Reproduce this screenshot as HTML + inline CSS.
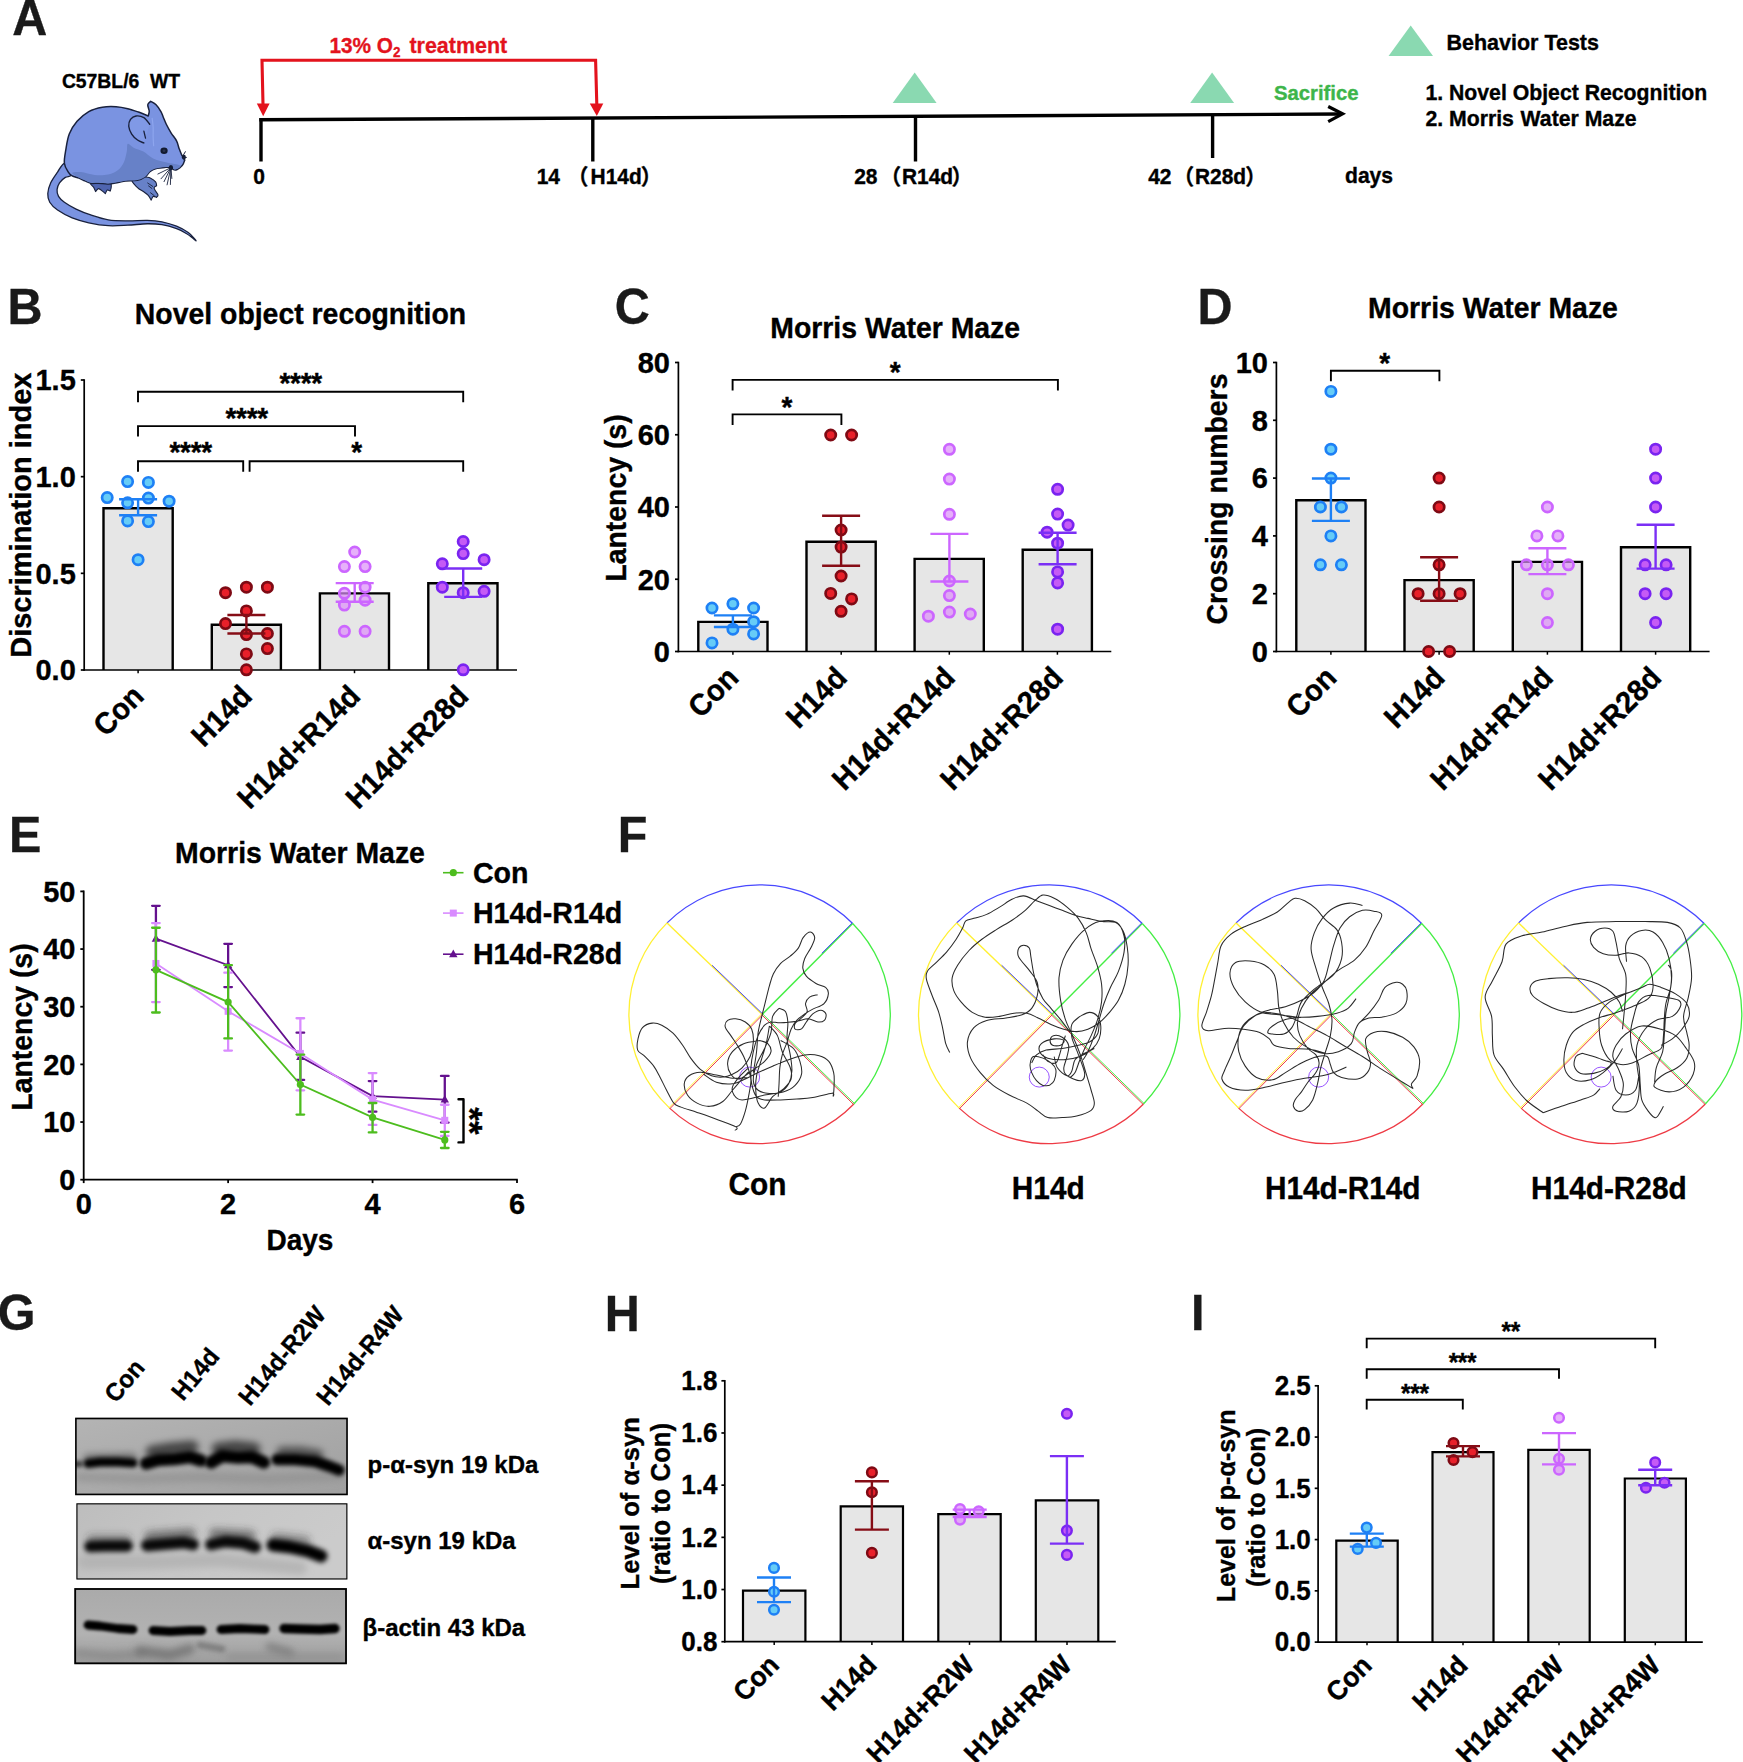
<!DOCTYPE html>
<html><head><meta charset="utf-8"><title>Figure</title>
<style>
html,body{margin:0;padding:0;background:#fff;}
svg{display:block;font-family:"Liberation Sans", "Noto Sans CJK SC", sans-serif;}
text{font-family:"Liberation Sans", "Noto Sans CJK SC", sans-serif;}
</style></head><body>
<svg width="1743" height="1762" viewBox="0 0 1743 1762">
<rect width="1743" height="1762" fill="#fff"/>
<text x="12.2" y="35" font-size="48.5" text-anchor="start" font-weight="bold" fill="#1a1a1a" stroke="#1a1a1a" stroke-width="0.35" transform="translate(12.2 35) scale(1 1.04) translate(-12.2 -35)">A</text>
<text x="121" y="88" font-size="19.35" text-anchor="middle" font-weight="bold" fill="#000" stroke="#000" stroke-width="0.35" transform="translate(121 88) scale(1 1.04) translate(-121 -88)">C57BL/6&#160; WT</text>
<g stroke-linejoin="round" stroke-linecap="round">
<path d="M64.38 163.27C61.94 163.76 59.83 168.8 57.56 172.05C55.28 175.3 52.35 179.2 50.73 182.78C49.1 186.36 47.97 190.26 47.8 193.51C47.64 196.76 48.13 199.52 49.75 202.29C51.38 205.05 53.82 207.49 57.56 210.09C61.29 212.69 66.98 215.78 72.19 217.89C77.39 220 82.75 221.47 88.77 222.77C94.78 224.07 101.77 225.29 108.27 225.69C114.77 226.1 121.28 225.53 127.78 225.21C134.28 224.88 141.6 223.82 147.29 223.74C152.98 223.66 157.04 223.91 161.92 224.72C166.79 225.53 172.48 227.16 176.55 228.62C180.61 230.08 183.54 231.87 186.3 233.5C189.06 235.12 191.5 237.15 193.13 238.37C194.75 239.59 195.56 240.4 196.05 240.81C195.89 240.57 196.38 240.73 195.08 239.35C193.78 237.97 191.34 234.72 188.25 232.52C185.16 230.33 180.93 227.97 176.55 226.18C172.16 224.39 166.79 222.77 161.92 221.79C157.04 220.82 152.98 220.49 147.29 220.33C141.6 220.17 134.28 220.9 127.78 220.82C121.28 220.74 114.45 220.82 108.27 219.84C102.1 218.87 96.08 216.75 90.72 214.96C85.35 213.18 80.48 211.23 76.09 209.11C71.7 207 67.31 204.4 64.38 202.29C61.46 200.17 59.75 198.55 58.53 196.43C57.31 194.32 56.91 191.88 57.07 189.61C57.23 187.33 58.12 184.81 59.51 182.78C60.89 180.75 63.41 178.63 65.36 177.41C67.31 176.2 70.07 176.85 71.21 175.46C72.35 174.08 73.32 171.16 72.19 169.12C71.05 167.09 66.82 162.79 64.38 163.27Z" stroke="#19213D" stroke-width="1.3" fill="#7A93E1" />
<path d="M90.72 183.27C89.58 184.16 92.83 185.79 93.64 187.17C94.46 188.55 95.27 190.83 95.59 191.56C96.08 191.07 97.38 188.71 98.52 188.63C99.66 188.55 101.28 190.22 102.42 191.07C103.56 191.91 104.86 193.26 105.35 193.7C105.67 193.1 106.48 190.53 107.3 190.09C108.11 189.66 109.74 190.91 110.22 191.07C110.39 190.42 111.2 188.47 111.2 187.17C111.2 185.87 112.01 184.16 110.22 183.27C108.44 182.37 103.72 181.8 100.47 181.8C97.22 181.8 91.85 182.37 90.72 183.27Z" stroke="#19213D" stroke-width="1.1" fill="#4F65B0" />
<path d="M131.68 178.88C130.71 181.64 135.58 185.54 137.53 187.66C139.48 189.77 141.6 190.26 143.38 191.56C145.17 192.86 146.96 194.03 148.26 195.46C149.56 196.89 150.7 199.36 151.19 200.14C151.51 199.52 152.24 196.89 153.14 196.43C154.03 195.98 155.98 197.25 156.55 197.41C156.8 197 158.18 196.03 158.01 194.97C157.85 193.91 156.23 192.29 155.58 191.07C154.93 189.85 153.93 188.55 154.11 187.66C154.29 186.76 156.23 186.03 156.65 185.71C156.47 185.05 156.65 183.1 155.58 181.8C154.5 180.5 152 178.8 150.21 177.9C148.42 177.01 145.99 177.58 144.85 176.44C143.71 175.3 145.58 170.67 143.38 171.08C141.19 171.48 132.66 176.11 131.68 178.88Z" stroke="#19213D" stroke-width="1.1" fill="#6781C8" />
<path d="M64.38 163.27C63.98 159.53 65.03 154.49 65.85 149.62C66.66 144.74 67.39 138.73 69.26 134.01C71.13 129.3 73.81 125.07 77.06 121.33C80.31 117.6 84.54 113.94 88.77 111.58C92.99 109.22 97.87 108 102.42 107.19C106.97 106.38 111.85 106.46 116.08 106.7C120.3 106.95 124.04 107.76 127.78 108.65C131.52 109.55 135.09 110.85 138.51 112.07C141.92 113.29 146.64 115.32 148.26 115.97C148.42 115.16 149.32 112.96 149.24 111.09C149.16 109.22 147.53 106.38 147.77 104.75C148.02 103.13 150.21 101.91 150.7 101.34C151.59 101.91 154.36 103.05 156.06 104.75C157.77 106.46 159.72 109.47 160.94 111.58C162.16 113.69 162.48 115.32 163.38 117.43C164.27 119.55 165 121.66 166.3 124.26C167.6 126.86 169.47 130.27 171.18 133.04C172.89 135.8 175.24 138.32 176.55 140.84C177.85 143.36 178.09 145.72 178.98 148.16C179.88 150.59 180.98 153.68 181.91 155.47C182.84 157.26 184.3 157.5 184.54 158.88C184.79 160.27 184.06 162.38 183.37 163.76C182.69 165.14 181.83 166.12 180.45 167.17C179.06 168.23 176.71 170.07 175.08 170.1C173.46 170.13 171.42 167.82 170.69 167.37C169.88 167.37 168.09 167.21 165.82 167.37C163.54 167.53 159.64 167.69 157.04 168.34C154.44 168.99 152.08 169.92 150.21 171.27C148.34 172.62 147.94 174.93 145.82 176.44C143.71 177.95 140.86 179.58 137.53 180.34C134.2 181.1 129.08 180.67 125.83 181.02C122.58 181.38 120.95 182 118.03 182.49C115.1 182.97 111.52 183.82 108.27 183.95C105.02 184.08 101.45 183.38 98.52 183.27C95.59 183.15 92.99 183.67 90.72 183.27C88.44 182.86 86.82 181.69 84.86 180.83C82.91 179.97 81.13 178.91 79.01 178.1C76.9 177.28 73.97 176.96 72.19 175.95C70.4 174.94 69.58 174.16 68.28 172.05C66.98 169.94 64.79 167.01 64.38 163.27Z" stroke="#19213D" stroke-width="1.5" fill="#7A93E1" />
<path d="M72.19 173.03C72.51 172.08 77.22 171.73 80.96 172.05C84.7 172.38 90.07 174.57 94.62 174.98C99.17 175.38 104.37 175.3 108.27 174.49C112.17 173.68 115.43 172.13 118.03 170.1C120.63 168.07 122.41 165.39 123.88 162.3C125.34 159.21 126.15 154.66 126.8 151.57C127.45 148.48 126.64 144.42 127.78 143.77C128.92 143.12 131.03 146.37 133.63 147.67C136.23 148.97 140.13 149.78 143.38 151.57C146.64 153.36 149.4 156.61 153.14 158.4C156.88 160.18 161.27 161.08 165.82 162.3C170.37 163.52 178.9 164.49 180.45 165.71C181.99 166.93 176.71 169.37 175.08 169.61C173.46 169.86 173.7 167.42 170.69 167.17C167.69 166.93 160.45 167.5 157.04 168.15C153.63 168.8 152.08 169.74 150.21 171.08C148.34 172.41 147.94 174.65 145.82 176.15C143.71 177.64 140.86 179.3 137.53 180.05C134.2 180.8 129.08 180.29 125.83 180.63C122.58 180.97 120.95 181.63 118.03 182.1C115.1 182.57 111.52 183.35 108.27 183.46C105.02 183.58 101.45 182.89 98.52 182.78C95.59 182.67 92.99 183.19 90.72 182.78C88.44 182.37 86.82 181.19 84.86 180.34C82.91 179.5 81.13 178.93 79.01 177.71C76.9 176.49 71.86 173.97 72.19 173.03Z" stroke="none" stroke-width="0" fill="#6781C8" />
<path d="M149.72 124.26C148.75 123.15 146.15 119.01 143.87 117.63C141.6 116.25 138.3 115.68 136.07 115.97C133.84 116.26 131.73 117.68 130.51 119.38C129.29 121.09 128.56 123.77 128.75 126.21C128.95 128.65 130.22 131.7 131.68 134.01C133.14 136.32 135.5 138.56 137.53 140.06C139.56 141.56 142.82 142.5 143.87 142.99" stroke="#19213D" stroke-width="1.4" fill="#8099E6" />
<path d="M143.87 131.09C143.99 131.57 144.28 132.84 144.55 134.01C144.83 135.18 145.37 137.43 145.53 138.11" stroke="#19213D" stroke-width="1.3" fill="none" />
<path d="M152.16 118.41C152.32 119.87 152.98 124.1 153.14 127.19C153.3 130.27 153.06 133.85 153.14 136.94C153.22 140.03 153.54 144.25 153.63 145.72" stroke="#8DA5EE" stroke-width="1.2" fill="none" />
<ellipse cx="164.06" cy="150.79" rx="3.6" ry="3.3" fill="#121a30"/>
<ellipse cx="164.06" cy="150.79" rx="1.5" ry="1.3" fill="#2a3350"/>
<ellipse cx="183.86" cy="157.23" rx="2" ry="2.4" fill="#121a30"/>
<line x1="182.89" y1="155.96" x2="185.52" y2="151.37" stroke="#19213D" stroke-width="1" stroke-linecap="butt"/>
<line x1="183.37" y1="157.42" x2="186.79" y2="157.42" stroke="#19213D" stroke-width="1" stroke-linecap="butt"/>
<line x1="183.18" y1="158.4" x2="185.32" y2="160.15" stroke="#19213D" stroke-width="1" stroke-linecap="butt"/>
<ellipse cx="170.89" cy="167.66" rx="2.2" ry="2.6" fill="#121a30"/>
<line x1="170.89" y1="167.66" x2="157.53" y2="174.2" stroke="#19213D" stroke-width="0.9" stroke-linecap="butt"/>
<line x1="170.89" y1="167.66" x2="160.75" y2="179.07" stroke="#19213D" stroke-width="0.9" stroke-linecap="butt"/>
<line x1="170.89" y1="167.66" x2="163.87" y2="182" stroke="#19213D" stroke-width="0.9" stroke-linecap="butt"/>
<line x1="170.89" y1="167.66" x2="166.99" y2="185.22" stroke="#19213D" stroke-width="0.9" stroke-linecap="butt"/>
<line x1="170.89" y1="167.66" x2="170.4" y2="184.92" stroke="#19213D" stroke-width="0.9" stroke-linecap="butt"/>
<line x1="170.89" y1="167.66" x2="171.86" y2="178.88" stroke="#19213D" stroke-width="0.9" stroke-linecap="butt"/>
<line x1="147.29" y1="182.78" x2="153.14" y2="186.68" stroke="#19213D" stroke-width="0.9" stroke-linecap="butt"/>
<line x1="148.26" y1="185.71" x2="152.16" y2="188.63" stroke="#19213D" stroke-width="0.9" stroke-linecap="butt"/>
<line x1="150.21" y1="192.53" x2="154.6" y2="195.95" stroke="#19213D" stroke-width="0.9" stroke-linecap="butt"/>
</g>
<line x1="259.3" y1="119.8" x2="1341" y2="114" stroke="#000" stroke-width="3.4" stroke-linecap="butt"/>
<path d="M1328.2 106.5 L1342.6 113.9 L1328.2 121.6" stroke="#000" stroke-width="3.2" fill="none" stroke-linejoin="miter"/>
<line x1="261" y1="118.2" x2="261" y2="161.5" stroke="#000" stroke-width="3.4" stroke-linecap="butt"/>
<line x1="592.8" y1="117.5" x2="592.8" y2="161.5" stroke="#000" stroke-width="3.4" stroke-linecap="butt"/>
<line x1="915.5" y1="116" x2="915.5" y2="161.5" stroke="#000" stroke-width="3.4" stroke-linecap="butt"/>
<line x1="1212.6" y1="114.5" x2="1212.6" y2="158" stroke="#000" stroke-width="3.4" stroke-linecap="butt"/>
<path d="M263 104.5 L262 60.3 L595.6 60.3 L596.8 104.5" stroke="#E3131D" stroke-width="3.1" fill="none" />
<polygon points="256.8,103.4 269.6,103.4 263.2,116.2" fill="#E3131D"/>
<polygon points="589.8,103.5 603.3,103.5 596.8,116" fill="#E3131D"/>
<text x="329.4" y="52.8" transform="translate(329.4 52.8) scale(1 1.045) translate(-329.4 -52.8)" font-size="20.8" font-weight="bold" stroke="#E3131D" stroke-width="0.3" fill="#E3131D">13% O<tspan font-size="13.5" dy="4.5">2</tspan> <tspan x="409.4" y="52.8" font-size="21.5">treatment</tspan></text>
<polygon points="914.7,72.4 892.7,103.1 936.6,103.1" fill="#8AD9B1"/>
<polygon points="1212.1,72.4 1190.2,103.1 1234.1,103.1" fill="#8AD9B1"/>
<polygon points="1410.7,25.6 1388.6,56.1 1433,56.1" fill="#8AD9B1"/>
<text x="259" y="183.8" font-size="21" text-anchor="middle" font-weight="bold" fill="#000" stroke="#000" stroke-width="0.35" transform="translate(259 183.8) scale(1 1.04) translate(-259 -183.8)">0</text>
<text x="536.7" y="183.8" font-size="21" text-anchor="start" font-weight="bold" fill="#000" stroke="#000" stroke-width="0.35" transform="translate(536.7 183.8) scale(1 1.04) translate(-536.7 -183.8)">14</text>
<text y="183.8" font-size="20.9" font-weight="bold" fill="#000" stroke="#000" stroke-width="0.35" transform="translate(567.4 183.8) scale(1 1.04) translate(-567.4 -183.8)"><tspan x="567.4">（</tspan><tspan x="590.6">H14d</tspan><tspan x="640.8">）</tspan></text>
<text x="854.2" y="183.8" font-size="21" text-anchor="start" font-weight="bold" fill="#000" stroke="#000" stroke-width="0.35" transform="translate(854.2 183.8) scale(1 1.04) translate(-854.2 -183.8)">28</text>
<text y="183.8" font-size="20.9" font-weight="bold" fill="#000" stroke="#000" stroke-width="0.35" transform="translate(880.2 183.8) scale(1 1.04) translate(-880.2 -183.8)"><tspan x="880.2">（</tspan><tspan x="902">R14d</tspan><tspan x="951.6">）</tspan></text>
<text x="1148.2" y="183.8" font-size="21" text-anchor="start" font-weight="bold" fill="#000" stroke="#000" stroke-width="0.35" transform="translate(1148.2 183.8) scale(1 1.04) translate(-1148.2 -183.8)">42</text>
<text y="183.8" font-size="20.9" font-weight="bold" fill="#000" stroke="#000" stroke-width="0.35" transform="translate(1173.3 183.8) scale(1 1.04) translate(-1173.3 -183.8)"><tspan x="1173.3">（</tspan><tspan x="1195">R28d</tspan><tspan x="1245.2">）</tspan></text>
<text x="1345" y="182.8" font-size="21.1" text-anchor="start" font-weight="bold" fill="#000" stroke="#000" stroke-width="0.35" transform="translate(1345 182.8) scale(1 1.04) translate(-1345 -182.8)">days</text>
<text x="1274" y="100.5" font-size="20.3" text-anchor="start" font-weight="bold" fill="#3DB54A" stroke="#3DB54A" stroke-width="0.35" transform="translate(1274 100.5) scale(1 1.04) translate(-1274 -100.5)">Sacrifice</text>
<text x="1446.5" y="50.4" font-size="21.5" text-anchor="start" font-weight="bold" fill="#000" stroke="#000" stroke-width="0.35" transform="translate(1446.5 50.4) scale(1 1.04) translate(-1446.5 -50.4)">Behavior Tests</text>
<text x="1425.4" y="100.5" font-size="21.25" text-anchor="start" font-weight="bold" fill="#000" stroke="#000" stroke-width="0.35" transform="translate(1425.4 100.5) scale(1 1.04) translate(-1425.4 -100.5)">1. Novel Object Recognition</text>
<text y="126" font-size="21.25" font-weight="bold" fill="#000" stroke="#000" stroke-width="0.35" transform="translate(1425.4 126) scale(1 1.04) translate(-1425.4 -126)"><tspan x="1425.4">2. Morris </tspan><tspan x="1520.6">Water Maze</tspan></text>
<text x="7.4" y="324.1" font-size="48.5" text-anchor="start" font-weight="bold" fill="#1a1a1a" stroke="#1a1a1a" stroke-width="0.35" transform="translate(7.4 324.1) scale(1 1.04) translate(-7.4 -324.1)">B</text>
<text x="300.5" y="324.5" font-size="28.4" text-anchor="middle" font-weight="bold" fill="#000" stroke="#000" stroke-width="0.35" transform="translate(300.5 324.5) scale(1 1.04) translate(-300.5 -324.5)">Novel object recognition</text>
<rect x="103.5" y="508.2" width="69.2" height="161.8" fill="#E6E6E6"/>
<path d="M103.5 670 V508.2 H172.7 V670" fill="none" stroke="#000" stroke-width="2.4" stroke-linejoin="miter"/>
<rect x="211.8" y="624.8" width="69.1" height="45.2" fill="#E6E6E6"/>
<path d="M211.8 670 V624.8 H280.9 V670" fill="none" stroke="#000" stroke-width="2.4" stroke-linejoin="miter"/>
<rect x="319.9" y="593.4" width="69.1" height="76.6" fill="#E6E6E6"/>
<path d="M319.9 670 V593.4 H389 V670" fill="none" stroke="#000" stroke-width="2.4" stroke-linejoin="miter"/>
<rect x="428.3" y="583.3" width="69.2" height="86.7" fill="#E6E6E6"/>
<path d="M428.3 670 V583.3 H497.5 V670" fill="none" stroke="#000" stroke-width="2.4" stroke-linejoin="miter"/>
<line x1="84.2" y1="379.2" x2="84.2" y2="670.8" stroke="#000" stroke-width="1.7" stroke-linecap="butt"/>
<line x1="83.4" y1="670" x2="517" y2="670" stroke="#000" stroke-width="1.7" stroke-linecap="butt"/>
<line x1="80.8" y1="670" x2="84.2" y2="670" stroke="#000" stroke-width="1.7" stroke-linecap="butt"/>
<text x="75.8" y="680.38" font-size="29" text-anchor="end" font-weight="bold" fill="#000" stroke="#000" stroke-width="0.35" transform="translate(75.8 680.38) scale(1 1.04) translate(-75.8 -680.38)">0.0</text>
<line x1="80.8" y1="573.33" x2="84.2" y2="573.33" stroke="#000" stroke-width="1.7" stroke-linecap="butt"/>
<text x="75.8" y="583.72" font-size="29" text-anchor="end" font-weight="bold" fill="#000" stroke="#000" stroke-width="0.35" transform="translate(75.8 583.72) scale(1 1.04) translate(-75.8 -583.72)">0.5</text>
<line x1="80.8" y1="476.67" x2="84.2" y2="476.67" stroke="#000" stroke-width="1.7" stroke-linecap="butt"/>
<text x="75.8" y="487.05" font-size="29" text-anchor="end" font-weight="bold" fill="#000" stroke="#000" stroke-width="0.35" transform="translate(75.8 487.05) scale(1 1.04) translate(-75.8 -487.05)">1.0</text>
<line x1="80.8" y1="380" x2="84.2" y2="380" stroke="#000" stroke-width="1.7" stroke-linecap="butt"/>
<text x="75.8" y="390.38" font-size="29" text-anchor="end" font-weight="bold" fill="#000" stroke="#000" stroke-width="0.35" transform="translate(75.8 390.38) scale(1 1.04) translate(-75.8 -390.38)">1.5</text>
<line x1="138.1" y1="670" x2="138.1" y2="673.2" stroke="#000" stroke-width="1.5" stroke-linecap="butt"/>
<line x1="246.3" y1="670" x2="246.3" y2="673.2" stroke="#000" stroke-width="1.5" stroke-linecap="butt"/>
<line x1="354.5" y1="670" x2="354.5" y2="673.2" stroke="#000" stroke-width="1.5" stroke-linecap="butt"/>
<line x1="462.9" y1="670" x2="462.9" y2="673.2" stroke="#000" stroke-width="1.5" stroke-linecap="butt"/>
<circle cx="127.6" cy="481.6" r="5.15" fill="#66CCF7" fill-opacity="1.0" stroke="#1E80F5" stroke-width="2.7"/>
<circle cx="148.4" cy="482.4" r="5.15" fill="#66CCF7" fill-opacity="1.0" stroke="#1E80F5" stroke-width="2.7"/>
<circle cx="107.2" cy="497.6" r="5.15" fill="#66CCF7" fill-opacity="1.0" stroke="#1E80F5" stroke-width="2.7"/>
<circle cx="148.4" cy="498.1" r="5.15" fill="#66CCF7" fill-opacity="1.0" stroke="#1E80F5" stroke-width="2.7"/>
<circle cx="169.1" cy="501.2" r="5.15" fill="#66CCF7" fill-opacity="1.0" stroke="#1E80F5" stroke-width="2.7"/>
<circle cx="127.6" cy="502.8" r="5.15" fill="#66CCF7" fill-opacity="1.0" stroke="#1E80F5" stroke-width="2.7"/>
<circle cx="127.6" cy="520.9" r="5.15" fill="#66CCF7" fill-opacity="1.0" stroke="#1E80F5" stroke-width="2.7"/>
<circle cx="148.4" cy="521.6" r="5.15" fill="#66CCF7" fill-opacity="1.0" stroke="#1E80F5" stroke-width="2.7"/>
<circle cx="138.1" cy="559.7" r="5.15" fill="#66CCF7" fill-opacity="1.0" stroke="#1E80F5" stroke-width="2.7"/>
<line x1="119.1" y1="499.3" x2="157.1" y2="499.3" stroke="#1E80F5" stroke-width="2.4" stroke-linecap="butt"/>
<line x1="119.1" y1="515.3" x2="157.1" y2="515.3" stroke="#1E80F5" stroke-width="2.4" stroke-linecap="butt"/>
<line x1="138.1" y1="499.3" x2="138.1" y2="515.3" stroke="#1E80F5" stroke-width="2.4" stroke-linecap="butt"/>
<circle cx="246.4" cy="587.2" r="5.15" fill="#E8202A" fill-opacity="1.0" stroke="#7E0A14" stroke-width="2.7"/>
<circle cx="267.4" cy="587.2" r="5.15" fill="#E8202A" fill-opacity="1.0" stroke="#7E0A14" stroke-width="2.7"/>
<circle cx="225.5" cy="592.7" r="5.15" fill="#E8202A" fill-opacity="1.0" stroke="#7E0A14" stroke-width="2.7"/>
<circle cx="246.4" cy="610.9" r="5.15" fill="#E8202A" fill-opacity="1.0" stroke="#7E0A14" stroke-width="2.7"/>
<circle cx="225.5" cy="623.6" r="5.15" fill="#E8202A" fill-opacity="1.0" stroke="#7E0A14" stroke-width="2.7"/>
<circle cx="246.4" cy="634.6" r="5.15" fill="#E8202A" fill-opacity="1.0" stroke="#7E0A14" stroke-width="2.7"/>
<circle cx="267.4" cy="633.5" r="5.15" fill="#E8202A" fill-opacity="1.0" stroke="#7E0A14" stroke-width="2.7"/>
<circle cx="267.4" cy="648.6" r="5.15" fill="#E8202A" fill-opacity="1.0" stroke="#7E0A14" stroke-width="2.7"/>
<circle cx="246.4" cy="653.9" r="5.15" fill="#E8202A" fill-opacity="1.0" stroke="#7E0A14" stroke-width="2.7"/>
<circle cx="246.4" cy="669.8" r="5.15" fill="#E8202A" fill-opacity="1.0" stroke="#7E0A14" stroke-width="2.7"/>
<line x1="227.4" y1="615" x2="265.4" y2="615" stroke="#860D16" stroke-width="2.4" stroke-linecap="butt"/>
<line x1="227.4" y1="633.5" x2="265.4" y2="633.5" stroke="#860D16" stroke-width="2.4" stroke-linecap="butt"/>
<line x1="246.4" y1="615" x2="246.4" y2="633.5" stroke="#860D16" stroke-width="2.4" stroke-linecap="butt"/>
<circle cx="354.7" cy="552" r="5.15" fill="#DB8FF8" fill-opacity="0.7" stroke="#CC66FF" stroke-width="2.7"/>
<circle cx="344.4" cy="566.6" r="5.15" fill="#DB8FF8" fill-opacity="0.7" stroke="#CC66FF" stroke-width="2.7"/>
<circle cx="365.1" cy="566.6" r="5.15" fill="#DB8FF8" fill-opacity="0.7" stroke="#CC66FF" stroke-width="2.7"/>
<circle cx="365.1" cy="587.2" r="5.15" fill="#DB8FF8" fill-opacity="0.7" stroke="#CC66FF" stroke-width="2.7"/>
<circle cx="344.4" cy="593.3" r="5.15" fill="#DB8FF8" fill-opacity="0.7" stroke="#CC66FF" stroke-width="2.7"/>
<circle cx="365.1" cy="600.2" r="5.15" fill="#DB8FF8" fill-opacity="0.7" stroke="#CC66FF" stroke-width="2.7"/>
<circle cx="344.4" cy="605.1" r="5.15" fill="#DB8FF8" fill-opacity="0.7" stroke="#CC66FF" stroke-width="2.7"/>
<circle cx="344.4" cy="631.3" r="5.15" fill="#DB8FF8" fill-opacity="0.7" stroke="#CC66FF" stroke-width="2.7"/>
<circle cx="365.1" cy="631.3" r="5.15" fill="#DB8FF8" fill-opacity="0.7" stroke="#CC66FF" stroke-width="2.7"/>
<line x1="335.7" y1="583.1" x2="373.7" y2="583.1" stroke="#CC66FF" stroke-width="2.4" stroke-linecap="butt"/>
<line x1="335.7" y1="601.8" x2="373.7" y2="601.8" stroke="#CC66FF" stroke-width="2.4" stroke-linecap="butt"/>
<line x1="354.7" y1="583.1" x2="354.7" y2="601.8" stroke="#CC66FF" stroke-width="2.4" stroke-linecap="butt"/>
<circle cx="463.2" cy="541.5" r="5.15" fill="#C55BF5" fill-opacity="1.0" stroke="#7A24F0" stroke-width="2.7"/>
<circle cx="463.2" cy="553.6" r="5.15" fill="#C55BF5" fill-opacity="1.0" stroke="#7A24F0" stroke-width="2.7"/>
<circle cx="442.3" cy="563.8" r="5.15" fill="#C55BF5" fill-opacity="1.0" stroke="#7A24F0" stroke-width="2.7"/>
<circle cx="484.1" cy="559.7" r="5.15" fill="#C55BF5" fill-opacity="1.0" stroke="#7A24F0" stroke-width="2.7"/>
<circle cx="442.3" cy="587.2" r="5.15" fill="#C55BF5" fill-opacity="1.0" stroke="#7A24F0" stroke-width="2.7"/>
<circle cx="463.2" cy="592.7" r="5.15" fill="#C55BF5" fill-opacity="1.0" stroke="#7A24F0" stroke-width="2.7"/>
<circle cx="484.1" cy="591.3" r="5.15" fill="#C55BF5" fill-opacity="1.0" stroke="#7A24F0" stroke-width="2.7"/>
<circle cx="463.2" cy="669.8" r="5.15" fill="#C55BF5" fill-opacity="1.0" stroke="#7A24F0" stroke-width="2.7"/>
<line x1="444.2" y1="568.5" x2="482.2" y2="568.5" stroke="#7B2FF5" stroke-width="2.4" stroke-linecap="butt"/>
<line x1="444.2" y1="596.9" x2="482.2" y2="596.9" stroke="#7B2FF5" stroke-width="2.4" stroke-linecap="butt"/>
<line x1="463.2" y1="568.5" x2="463.2" y2="596.9" stroke="#7B2FF5" stroke-width="2.4" stroke-linecap="butt"/>
<text x="30.8" y="515.2" font-size="29" text-anchor="middle" font-weight="bold" fill="#000" stroke="#000" stroke-width="0.35" transform="rotate(-90 30.8 515.2) translate(30.8 515.2) scale(1 1.04) translate(-30.8 -515.2)">Discrimination index</text>
<text x="145.6" y="698" font-size="29" text-anchor="end" font-weight="bold" fill="#000" stroke="#000" stroke-width="0.35" transform="rotate(-45 145.6 698) translate(145.6 698) scale(1 1.04) translate(-145.6 -698)">Con</text>
<text x="253.8" y="698" font-size="29" text-anchor="end" font-weight="bold" fill="#000" stroke="#000" stroke-width="0.35" transform="rotate(-45 253.8 698) translate(253.8 698) scale(1 1.04) translate(-253.8 -698)">H14d</text>
<text x="362" y="698" font-size="29" text-anchor="end" font-weight="bold" fill="#000" stroke="#000" stroke-width="0.35" transform="rotate(-45 362 698) translate(362 698) scale(1 1.04) translate(-362 -698)">H14d+R14d</text>
<text x="470.4" y="698" font-size="29" text-anchor="end" font-weight="bold" fill="#000" stroke="#000" stroke-width="0.35" transform="rotate(-45 470.4 698) translate(470.4 698) scale(1 1.04) translate(-470.4 -698)">H14d+R28d</text>
<path d="M138 402.2 V391.7 H463.2 V402.2" stroke="#000" stroke-width="1.9" fill="none" />
<text x="300.7" y="393" font-size="28" text-anchor="middle" font-weight="bold" fill="#000" stroke="#000" stroke-width="0.35" transform="translate(300.7 393) scale(1 1.04) translate(-300.7 -393)" letter-spacing="-0.3">****</text>
<path d="M138 436.6 V426.1 H355 V436.6" stroke="#000" stroke-width="1.9" fill="none" />
<text x="246.7" y="428.1" font-size="28" text-anchor="middle" font-weight="bold" fill="#000" stroke="#000" stroke-width="0.35" transform="translate(246.7 428.1) scale(1 1.04) translate(-246.7 -428.1)" letter-spacing="-0.3">****</text>
<path d="M138 471.8 V461.3 H243.2 V471.8" stroke="#000" stroke-width="1.9" fill="none" />
<text x="190.7" y="462.5" font-size="28" text-anchor="middle" font-weight="bold" fill="#000" stroke="#000" stroke-width="0.35" transform="translate(190.7 462.5) scale(1 1.04) translate(-190.7 -462.5)" letter-spacing="-0.3">****</text>
<path d="M249.6 471.8 V461.3 H463.2 V471.8" stroke="#000" stroke-width="1.9" fill="none" />
<text x="356.6" y="462.5" font-size="28" text-anchor="middle" font-weight="bold" fill="#000" stroke="#000" stroke-width="0.35" transform="translate(356.6 462.5) scale(1 1.04) translate(-356.6 -462.5)" letter-spacing="-0.3">*</text>
<text x="614.8" y="324.4" font-size="48.5" text-anchor="start" font-weight="bold" fill="#1a1a1a" stroke="#1a1a1a" stroke-width="0.35" transform="translate(614.8 324.4) scale(1 1.04) translate(-614.8 -324.4)">C</text>
<text x="895.2" y="338.2" font-size="28.4" text-anchor="middle" font-weight="bold" fill="#000" stroke="#000" stroke-width="0.35" transform="translate(895.2 338.2) scale(1 1.04) translate(-895.2 -338.2)">Morris Water Maze</text>
<rect x="698.3" y="621.9" width="69.2" height="29.6" fill="#E6E6E6"/>
<path d="M698.3 651.5 V621.9 H767.5 V651.5" fill="none" stroke="#000" stroke-width="2.4" stroke-linejoin="miter"/>
<rect x="806.5" y="541.8" width="69.2" height="109.7" fill="#E6E6E6"/>
<path d="M806.5 651.5 V541.8 H875.7 V651.5" fill="none" stroke="#000" stroke-width="2.4" stroke-linejoin="miter"/>
<rect x="914.6" y="558.9" width="69.2" height="92.6" fill="#E6E6E6"/>
<path d="M914.6 651.5 V558.9 H983.8 V651.5" fill="none" stroke="#000" stroke-width="2.4" stroke-linejoin="miter"/>
<rect x="1022.7" y="549.8" width="69.2" height="101.7" fill="#E6E6E6"/>
<path d="M1022.7 651.5 V549.8 H1091.9 V651.5" fill="none" stroke="#000" stroke-width="2.4" stroke-linejoin="miter"/>
<line x1="678.4" y1="361.7" x2="678.4" y2="652.3" stroke="#000" stroke-width="1.7" stroke-linecap="butt"/>
<line x1="677.6" y1="651.5" x2="1111.3" y2="651.5" stroke="#000" stroke-width="1.7" stroke-linecap="butt"/>
<line x1="675" y1="651.5" x2="678.4" y2="651.5" stroke="#000" stroke-width="1.7" stroke-linecap="butt"/>
<text x="670" y="661.88" font-size="29" text-anchor="end" font-weight="bold" fill="#000" stroke="#000" stroke-width="0.35" transform="translate(670 661.88) scale(1 1.04) translate(-670 -661.88)">0</text>
<line x1="675" y1="579.25" x2="678.4" y2="579.25" stroke="#000" stroke-width="1.7" stroke-linecap="butt"/>
<text x="670" y="589.63" font-size="29" text-anchor="end" font-weight="bold" fill="#000" stroke="#000" stroke-width="0.35" transform="translate(670 589.63) scale(1 1.04) translate(-670 -589.63)">20</text>
<line x1="675" y1="507" x2="678.4" y2="507" stroke="#000" stroke-width="1.7" stroke-linecap="butt"/>
<text x="670" y="517.38" font-size="29" text-anchor="end" font-weight="bold" fill="#000" stroke="#000" stroke-width="0.35" transform="translate(670 517.38) scale(1 1.04) translate(-670 -517.38)">40</text>
<line x1="675" y1="434.75" x2="678.4" y2="434.75" stroke="#000" stroke-width="1.7" stroke-linecap="butt"/>
<text x="670" y="445.13" font-size="29" text-anchor="end" font-weight="bold" fill="#000" stroke="#000" stroke-width="0.35" transform="translate(670 445.13) scale(1 1.04) translate(-670 -445.13)">60</text>
<line x1="675" y1="362.5" x2="678.4" y2="362.5" stroke="#000" stroke-width="1.7" stroke-linecap="butt"/>
<text x="670" y="372.88" font-size="29" text-anchor="end" font-weight="bold" fill="#000" stroke="#000" stroke-width="0.35" transform="translate(670 372.88) scale(1 1.04) translate(-670 -372.88)">80</text>
<line x1="732.9" y1="651.5" x2="732.9" y2="654.7" stroke="#000" stroke-width="1.5" stroke-linecap="butt"/>
<line x1="841.2" y1="651.5" x2="841.2" y2="654.7" stroke="#000" stroke-width="1.5" stroke-linecap="butt"/>
<line x1="949.3" y1="651.5" x2="949.3" y2="654.7" stroke="#000" stroke-width="1.5" stroke-linecap="butt"/>
<line x1="1057.4" y1="651.5" x2="1057.4" y2="654.7" stroke="#000" stroke-width="1.5" stroke-linecap="butt"/>
<circle cx="712" cy="608" r="5.15" fill="#66CCF7" fill-opacity="1.0" stroke="#1E80F5" stroke-width="2.7"/>
<circle cx="732.9" cy="603.8" r="5.15" fill="#66CCF7" fill-opacity="1.0" stroke="#1E80F5" stroke-width="2.7"/>
<circle cx="753.6" cy="608" r="5.15" fill="#66CCF7" fill-opacity="1.0" stroke="#1E80F5" stroke-width="2.7"/>
<circle cx="753.6" cy="621.7" r="5.15" fill="#66CCF7" fill-opacity="1.0" stroke="#1E80F5" stroke-width="2.7"/>
<circle cx="732.9" cy="629.2" r="5.15" fill="#66CCF7" fill-opacity="1.0" stroke="#1E80F5" stroke-width="2.7"/>
<circle cx="753.6" cy="633.9" r="5.15" fill="#66CCF7" fill-opacity="1.0" stroke="#1E80F5" stroke-width="2.7"/>
<circle cx="712" cy="642.9" r="5.15" fill="#66CCF7" fill-opacity="1.0" stroke="#1E80F5" stroke-width="2.7"/>
<line x1="713.9" y1="615.4" x2="751.9" y2="615.4" stroke="#1E80F5" stroke-width="2.4" stroke-linecap="butt"/>
<line x1="713.9" y1="627" x2="751.9" y2="627" stroke="#1E80F5" stroke-width="2.4" stroke-linecap="butt"/>
<line x1="732.9" y1="615.4" x2="732.9" y2="627" stroke="#1E80F5" stroke-width="2.4" stroke-linecap="butt"/>
<circle cx="830.7" cy="435" r="5.15" fill="#E8202A" fill-opacity="1.0" stroke="#7E0A14" stroke-width="2.7"/>
<circle cx="851.6" cy="435" r="5.15" fill="#E8202A" fill-opacity="1.0" stroke="#7E0A14" stroke-width="2.7"/>
<circle cx="841.1" cy="530" r="5.15" fill="#E8202A" fill-opacity="1.0" stroke="#7E0A14" stroke-width="2.7"/>
<circle cx="841.1" cy="547.1" r="5.15" fill="#E8202A" fill-opacity="1.0" stroke="#7E0A14" stroke-width="2.7"/>
<circle cx="841.1" cy="576" r="5.15" fill="#E8202A" fill-opacity="1.0" stroke="#7E0A14" stroke-width="2.7"/>
<circle cx="830.7" cy="593.4" r="5.15" fill="#E8202A" fill-opacity="1.0" stroke="#7E0A14" stroke-width="2.7"/>
<circle cx="851.6" cy="598.9" r="5.15" fill="#E8202A" fill-opacity="1.0" stroke="#7E0A14" stroke-width="2.7"/>
<circle cx="841.1" cy="611.3" r="5.15" fill="#E8202A" fill-opacity="1.0" stroke="#7E0A14" stroke-width="2.7"/>
<line x1="822.1" y1="515.7" x2="860.1" y2="515.7" stroke="#860D16" stroke-width="2.4" stroke-linecap="butt"/>
<line x1="822.1" y1="565.8" x2="860.1" y2="565.8" stroke="#860D16" stroke-width="2.4" stroke-linecap="butt"/>
<line x1="841.1" y1="515.7" x2="841.1" y2="565.8" stroke="#860D16" stroke-width="2.4" stroke-linecap="butt"/>
<circle cx="949.4" cy="449.3" r="5.15" fill="#DB8FF8" fill-opacity="0.7" stroke="#CC66FF" stroke-width="2.7"/>
<circle cx="949.4" cy="479.1" r="5.15" fill="#DB8FF8" fill-opacity="0.7" stroke="#CC66FF" stroke-width="2.7"/>
<circle cx="949.4" cy="514.3" r="5.15" fill="#DB8FF8" fill-opacity="0.7" stroke="#CC66FF" stroke-width="2.7"/>
<circle cx="949.4" cy="581" r="5.15" fill="#DB8FF8" fill-opacity="0.7" stroke="#CC66FF" stroke-width="2.7"/>
<circle cx="949.4" cy="595.6" r="5.15" fill="#DB8FF8" fill-opacity="0.7" stroke="#CC66FF" stroke-width="2.7"/>
<circle cx="949.4" cy="612.1" r="5.15" fill="#DB8FF8" fill-opacity="0.7" stroke="#CC66FF" stroke-width="2.7"/>
<circle cx="928.4" cy="616.2" r="5.15" fill="#DB8FF8" fill-opacity="0.7" stroke="#CC66FF" stroke-width="2.7"/>
<circle cx="970.3" cy="614" r="5.15" fill="#DB8FF8" fill-opacity="0.7" stroke="#CC66FF" stroke-width="2.7"/>
<line x1="930.4" y1="533.9" x2="968.4" y2="533.9" stroke="#CC66FF" stroke-width="2.4" stroke-linecap="butt"/>
<line x1="930.4" y1="581.5" x2="968.4" y2="581.5" stroke="#CC66FF" stroke-width="2.4" stroke-linecap="butt"/>
<line x1="949.4" y1="533.9" x2="949.4" y2="581.5" stroke="#CC66FF" stroke-width="2.4" stroke-linecap="butt"/>
<circle cx="1057.6" cy="489.3" r="5.15" fill="#C55BF5" fill-opacity="1.0" stroke="#7A24F0" stroke-width="2.7"/>
<circle cx="1057.6" cy="514.1" r="5.15" fill="#C55BF5" fill-opacity="1.0" stroke="#7A24F0" stroke-width="2.7"/>
<circle cx="1068.1" cy="525.1" r="5.15" fill="#C55BF5" fill-opacity="1.0" stroke="#7A24F0" stroke-width="2.7"/>
<circle cx="1047.1" cy="532.2" r="5.15" fill="#C55BF5" fill-opacity="1.0" stroke="#7A24F0" stroke-width="2.7"/>
<circle cx="1057.6" cy="543.2" r="5.15" fill="#C55BF5" fill-opacity="1.0" stroke="#7A24F0" stroke-width="2.7"/>
<circle cx="1057.6" cy="571.9" r="5.15" fill="#C55BF5" fill-opacity="1.0" stroke="#7A24F0" stroke-width="2.7"/>
<circle cx="1057.6" cy="582.9" r="5.15" fill="#C55BF5" fill-opacity="1.0" stroke="#7A24F0" stroke-width="2.7"/>
<circle cx="1057.6" cy="629.2" r="5.15" fill="#C55BF5" fill-opacity="1.0" stroke="#7A24F0" stroke-width="2.7"/>
<line x1="1038.6" y1="532.8" x2="1076.6" y2="532.8" stroke="#7B2FF5" stroke-width="2.4" stroke-linecap="butt"/>
<line x1="1038.6" y1="564.2" x2="1076.6" y2="564.2" stroke="#7B2FF5" stroke-width="2.4" stroke-linecap="butt"/>
<line x1="1057.6" y1="532.8" x2="1057.6" y2="564.2" stroke="#7B2FF5" stroke-width="2.4" stroke-linecap="butt"/>
<text x="626" y="498" font-size="28.4" text-anchor="middle" font-weight="bold" fill="#000" stroke="#000" stroke-width="0.35" transform="rotate(-90 626 498) translate(626 498) scale(1 1.04) translate(-626 -498)">Lantency (s)</text>
<text x="740.4" y="679.5" font-size="29" text-anchor="end" font-weight="bold" fill="#000" stroke="#000" stroke-width="0.35" transform="rotate(-45 740.4 679.5) translate(740.4 679.5) scale(1 1.04) translate(-740.4 -679.5)">Con</text>
<text x="848.7" y="679.5" font-size="29" text-anchor="end" font-weight="bold" fill="#000" stroke="#000" stroke-width="0.35" transform="rotate(-45 848.7 679.5) translate(848.7 679.5) scale(1 1.04) translate(-848.7 -679.5)">H14d</text>
<text x="956.8" y="679.5" font-size="29" text-anchor="end" font-weight="bold" fill="#000" stroke="#000" stroke-width="0.35" transform="rotate(-45 956.8 679.5) translate(956.8 679.5) scale(1 1.04) translate(-956.8 -679.5)">H14d+R14d</text>
<text x="1064.9" y="679.5" font-size="29" text-anchor="end" font-weight="bold" fill="#000" stroke="#000" stroke-width="0.35" transform="rotate(-45 1064.9 679.5) translate(1064.9 679.5) scale(1 1.04) translate(-1064.9 -679.5)">H14d+R28d</text>
<path d="M732.6 390.4 V379.9 H1057.9 V390.4" stroke="#000" stroke-width="1.9" fill="none" />
<text x="895.1" y="381.6" font-size="28" text-anchor="middle" font-weight="bold" fill="#000" stroke="#000" stroke-width="0.35" transform="translate(895.1 381.6) scale(1 1.04) translate(-895.1 -381.6)" letter-spacing="-0.3">*</text>
<path d="M732.6 424.9 V414.4 H841.4 V424.9" stroke="#000" stroke-width="1.9" fill="none" />
<text x="786.9" y="416.9" font-size="28" text-anchor="middle" font-weight="bold" fill="#000" stroke="#000" stroke-width="0.35" transform="translate(786.9 416.9) scale(1 1.04) translate(-786.9 -416.9)" letter-spacing="-0.3">*</text>
<text x="1197.4" y="324.1" font-size="48.5" text-anchor="start" font-weight="bold" fill="#1a1a1a" stroke="#1a1a1a" stroke-width="0.35" transform="translate(1197.4 324.1) scale(1 1.04) translate(-1197.4 -324.1)">D</text>
<text x="1493" y="318" font-size="28.4" text-anchor="middle" font-weight="bold" fill="#000" stroke="#000" stroke-width="0.35" transform="translate(1493 318) scale(1 1.04) translate(-1493 -318)">Morris Water Maze</text>
<rect x="1296.3" y="500.2" width="69.2" height="151.3" fill="#E6E6E6"/>
<path d="M1296.3 651.5 V500.2 H1365.5 V651.5" fill="none" stroke="#000" stroke-width="2.4" stroke-linejoin="miter"/>
<rect x="1404.5" y="580.1" width="69.2" height="71.4" fill="#E6E6E6"/>
<path d="M1404.5 651.5 V580.1 H1473.7 V651.5" fill="none" stroke="#000" stroke-width="2.4" stroke-linejoin="miter"/>
<rect x="1512.8" y="561.9" width="69.2" height="89.6" fill="#E6E6E6"/>
<path d="M1512.8 651.5 V561.9 H1582 V651.5" fill="none" stroke="#000" stroke-width="2.4" stroke-linejoin="miter"/>
<rect x="1621" y="547.3" width="69.2" height="104.2" fill="#E6E6E6"/>
<path d="M1621 651.5 V547.3 H1690.2 V651.5" fill="none" stroke="#000" stroke-width="2.4" stroke-linejoin="miter"/>
<line x1="1276.4" y1="361.7" x2="1276.4" y2="652.3" stroke="#000" stroke-width="1.7" stroke-linecap="butt"/>
<line x1="1275.6" y1="651.5" x2="1709.6" y2="651.5" stroke="#000" stroke-width="1.7" stroke-linecap="butt"/>
<line x1="1273" y1="651.5" x2="1276.4" y2="651.5" stroke="#000" stroke-width="1.7" stroke-linecap="butt"/>
<text x="1268" y="661.88" font-size="29" text-anchor="end" font-weight="bold" fill="#000" stroke="#000" stroke-width="0.35" transform="translate(1268 661.88) scale(1 1.04) translate(-1268 -661.88)">0</text>
<line x1="1273" y1="593.7" x2="1276.4" y2="593.7" stroke="#000" stroke-width="1.7" stroke-linecap="butt"/>
<text x="1268" y="604.08" font-size="29" text-anchor="end" font-weight="bold" fill="#000" stroke="#000" stroke-width="0.35" transform="translate(1268 604.08) scale(1 1.04) translate(-1268 -604.08)">2</text>
<line x1="1273" y1="535.9" x2="1276.4" y2="535.9" stroke="#000" stroke-width="1.7" stroke-linecap="butt"/>
<text x="1268" y="546.28" font-size="29" text-anchor="end" font-weight="bold" fill="#000" stroke="#000" stroke-width="0.35" transform="translate(1268 546.28) scale(1 1.04) translate(-1268 -546.28)">4</text>
<line x1="1273" y1="478.1" x2="1276.4" y2="478.1" stroke="#000" stroke-width="1.7" stroke-linecap="butt"/>
<text x="1268" y="488.48" font-size="29" text-anchor="end" font-weight="bold" fill="#000" stroke="#000" stroke-width="0.35" transform="translate(1268 488.48) scale(1 1.04) translate(-1268 -488.48)">6</text>
<line x1="1273" y1="420.3" x2="1276.4" y2="420.3" stroke="#000" stroke-width="1.7" stroke-linecap="butt"/>
<text x="1268" y="430.68" font-size="29" text-anchor="end" font-weight="bold" fill="#000" stroke="#000" stroke-width="0.35" transform="translate(1268 430.68) scale(1 1.04) translate(-1268 -430.68)">8</text>
<line x1="1273" y1="362.5" x2="1276.4" y2="362.5" stroke="#000" stroke-width="1.7" stroke-linecap="butt"/>
<text x="1268" y="372.88" font-size="29" text-anchor="end" font-weight="bold" fill="#000" stroke="#000" stroke-width="0.35" transform="translate(1268 372.88) scale(1 1.04) translate(-1268 -372.88)">10</text>
<line x1="1330.9" y1="651.5" x2="1330.9" y2="654.7" stroke="#000" stroke-width="1.5" stroke-linecap="butt"/>
<line x1="1439.1" y1="651.5" x2="1439.1" y2="654.7" stroke="#000" stroke-width="1.5" stroke-linecap="butt"/>
<line x1="1547.4" y1="651.5" x2="1547.4" y2="654.7" stroke="#000" stroke-width="1.5" stroke-linecap="butt"/>
<line x1="1655.6" y1="651.5" x2="1655.6" y2="654.7" stroke="#000" stroke-width="1.5" stroke-linecap="butt"/>
<circle cx="1330.9" cy="391.4" r="5.15" fill="#66CCF7" fill-opacity="1.0" stroke="#1E80F5" stroke-width="2.7"/>
<circle cx="1330.9" cy="449.2" r="5.15" fill="#66CCF7" fill-opacity="1.0" stroke="#1E80F5" stroke-width="2.7"/>
<circle cx="1330.9" cy="478.1" r="5.15" fill="#66CCF7" fill-opacity="1.0" stroke="#1E80F5" stroke-width="2.7"/>
<circle cx="1320.4" cy="507" r="5.15" fill="#66CCF7" fill-opacity="1.0" stroke="#1E80F5" stroke-width="2.7"/>
<circle cx="1341.4" cy="507" r="5.15" fill="#66CCF7" fill-opacity="1.0" stroke="#1E80F5" stroke-width="2.7"/>
<circle cx="1330.9" cy="535.9" r="5.15" fill="#66CCF7" fill-opacity="1.0" stroke="#1E80F5" stroke-width="2.7"/>
<circle cx="1320.4" cy="564.8" r="5.15" fill="#66CCF7" fill-opacity="1.0" stroke="#1E80F5" stroke-width="2.7"/>
<circle cx="1341.4" cy="564.8" r="5.15" fill="#66CCF7" fill-opacity="1.0" stroke="#1E80F5" stroke-width="2.7"/>
<line x1="1311.9" y1="478.5" x2="1349.9" y2="478.5" stroke="#1E80F5" stroke-width="2.4" stroke-linecap="butt"/>
<line x1="1311.9" y1="520.9" x2="1349.9" y2="520.9" stroke="#1E80F5" stroke-width="2.4" stroke-linecap="butt"/>
<line x1="1330.9" y1="478.5" x2="1330.9" y2="520.9" stroke="#1E80F5" stroke-width="2.4" stroke-linecap="butt"/>
<circle cx="1439.1" cy="478.1" r="5.15" fill="#E8202A" fill-opacity="1.0" stroke="#7E0A14" stroke-width="2.7"/>
<circle cx="1439.1" cy="507" r="5.15" fill="#E8202A" fill-opacity="1.0" stroke="#7E0A14" stroke-width="2.7"/>
<circle cx="1439.1" cy="564.8" r="5.15" fill="#E8202A" fill-opacity="1.0" stroke="#7E0A14" stroke-width="2.7"/>
<circle cx="1418.1" cy="593.7" r="5.15" fill="#E8202A" fill-opacity="1.0" stroke="#7E0A14" stroke-width="2.7"/>
<circle cx="1439.1" cy="593.7" r="5.15" fill="#E8202A" fill-opacity="1.0" stroke="#7E0A14" stroke-width="2.7"/>
<circle cx="1460.1" cy="593.7" r="5.15" fill="#E8202A" fill-opacity="1.0" stroke="#7E0A14" stroke-width="2.7"/>
<circle cx="1428.6" cy="651.5" r="5.15" fill="#E8202A" fill-opacity="1.0" stroke="#7E0A14" stroke-width="2.7"/>
<circle cx="1449.6" cy="651.5" r="5.15" fill="#E8202A" fill-opacity="1.0" stroke="#7E0A14" stroke-width="2.7"/>
<line x1="1420.1" y1="557.3" x2="1458.1" y2="557.3" stroke="#860D16" stroke-width="2.4" stroke-linecap="butt"/>
<line x1="1420.1" y1="600.8" x2="1458.1" y2="600.8" stroke="#860D16" stroke-width="2.4" stroke-linecap="butt"/>
<line x1="1439.1" y1="557.3" x2="1439.1" y2="600.8" stroke="#860D16" stroke-width="2.4" stroke-linecap="butt"/>
<circle cx="1547.4" cy="507" r="5.15" fill="#DB8FF8" fill-opacity="0.7" stroke="#CC66FF" stroke-width="2.7"/>
<circle cx="1536.9" cy="535.9" r="5.15" fill="#DB8FF8" fill-opacity="0.7" stroke="#CC66FF" stroke-width="2.7"/>
<circle cx="1557.9" cy="535.9" r="5.15" fill="#DB8FF8" fill-opacity="0.7" stroke="#CC66FF" stroke-width="2.7"/>
<circle cx="1526.4" cy="564.8" r="5.15" fill="#DB8FF8" fill-opacity="0.7" stroke="#CC66FF" stroke-width="2.7"/>
<circle cx="1547.4" cy="564.8" r="5.15" fill="#DB8FF8" fill-opacity="0.7" stroke="#CC66FF" stroke-width="2.7"/>
<circle cx="1568.4" cy="564.8" r="5.15" fill="#DB8FF8" fill-opacity="0.7" stroke="#CC66FF" stroke-width="2.7"/>
<circle cx="1547.4" cy="593.7" r="5.15" fill="#DB8FF8" fill-opacity="0.7" stroke="#CC66FF" stroke-width="2.7"/>
<circle cx="1547.4" cy="622.6" r="5.15" fill="#DB8FF8" fill-opacity="0.7" stroke="#CC66FF" stroke-width="2.7"/>
<line x1="1528.4" y1="548.2" x2="1566.4" y2="548.2" stroke="#CC66FF" stroke-width="2.4" stroke-linecap="butt"/>
<line x1="1528.4" y1="574.1" x2="1566.4" y2="574.1" stroke="#CC66FF" stroke-width="2.4" stroke-linecap="butt"/>
<line x1="1547.4" y1="548.2" x2="1547.4" y2="574.1" stroke="#CC66FF" stroke-width="2.4" stroke-linecap="butt"/>
<circle cx="1655.6" cy="449.2" r="5.15" fill="#C55BF5" fill-opacity="1.0" stroke="#7A24F0" stroke-width="2.7"/>
<circle cx="1655.6" cy="478.1" r="5.15" fill="#C55BF5" fill-opacity="1.0" stroke="#7A24F0" stroke-width="2.7"/>
<circle cx="1655.6" cy="507" r="5.15" fill="#C55BF5" fill-opacity="1.0" stroke="#7A24F0" stroke-width="2.7"/>
<circle cx="1645.1" cy="564.8" r="5.15" fill="#C55BF5" fill-opacity="1.0" stroke="#7A24F0" stroke-width="2.7"/>
<circle cx="1666.1" cy="564.8" r="5.15" fill="#C55BF5" fill-opacity="1.0" stroke="#7A24F0" stroke-width="2.7"/>
<circle cx="1645.1" cy="593.7" r="5.15" fill="#C55BF5" fill-opacity="1.0" stroke="#7A24F0" stroke-width="2.7"/>
<circle cx="1666.1" cy="593.7" r="5.15" fill="#C55BF5" fill-opacity="1.0" stroke="#7A24F0" stroke-width="2.7"/>
<circle cx="1655.6" cy="622.6" r="5.15" fill="#C55BF5" fill-opacity="1.0" stroke="#7A24F0" stroke-width="2.7"/>
<line x1="1636.6" y1="524.8" x2="1674.6" y2="524.8" stroke="#7B2FF5" stroke-width="2.4" stroke-linecap="butt"/>
<line x1="1636.6" y1="568.6" x2="1674.6" y2="568.6" stroke="#7B2FF5" stroke-width="2.4" stroke-linecap="butt"/>
<line x1="1655.6" y1="524.8" x2="1655.6" y2="568.6" stroke="#7B2FF5" stroke-width="2.4" stroke-linecap="butt"/>
<text x="1227" y="499" font-size="28.4" text-anchor="middle" font-weight="bold" fill="#000" stroke="#000" stroke-width="0.35" transform="rotate(-90 1227 499) translate(1227 499) scale(1 1.04) translate(-1227 -499)">Crossing numbers</text>
<text x="1338.4" y="679.5" font-size="29" text-anchor="end" font-weight="bold" fill="#000" stroke="#000" stroke-width="0.35" transform="rotate(-45 1338.4 679.5) translate(1338.4 679.5) scale(1 1.04) translate(-1338.4 -679.5)">Con</text>
<text x="1446.6" y="679.5" font-size="29" text-anchor="end" font-weight="bold" fill="#000" stroke="#000" stroke-width="0.35" transform="rotate(-45 1446.6 679.5) translate(1446.6 679.5) scale(1 1.04) translate(-1446.6 -679.5)">H14d</text>
<text x="1554.9" y="679.5" font-size="29" text-anchor="end" font-weight="bold" fill="#000" stroke="#000" stroke-width="0.35" transform="rotate(-45 1554.9 679.5) translate(1554.9 679.5) scale(1 1.04) translate(-1554.9 -679.5)">H14d+R14d</text>
<text x="1663.1" y="679.5" font-size="29" text-anchor="end" font-weight="bold" fill="#000" stroke="#000" stroke-width="0.35" transform="rotate(-45 1663.1 679.5) translate(1663.1 679.5) scale(1 1.04) translate(-1663.1 -679.5)">H14d+R28d</text>
<path d="M1330.9 381.3 V370.8 H1439.4 V381.3" stroke="#000" stroke-width="1.9" fill="none" />
<text x="1384.6" y="373.3" font-size="28" text-anchor="middle" font-weight="bold" fill="#000" stroke="#000" stroke-width="0.35" transform="translate(1384.6 373.3) scale(1 1.04) translate(-1384.6 -373.3)" letter-spacing="-0.3">*</text>
<text x="8.9" y="851.8" font-size="48.5" text-anchor="start" font-weight="bold" fill="#1a1a1a" stroke="#1a1a1a" stroke-width="0.35" transform="translate(8.9 851.8) scale(1 1.04) translate(-8.9 -851.8)">E</text>
<text x="300" y="863" font-size="28.4" text-anchor="middle" font-weight="bold" fill="#000" stroke="#000" stroke-width="0.35" transform="translate(300 863) scale(1 1.04) translate(-300 -863)">Morris Water Maze</text>
<line x1="83.7" y1="890.6" x2="83.7" y2="1180.5" stroke="#000" stroke-width="1.8" stroke-linecap="butt"/>
<line x1="82.9" y1="1179.7" x2="517.8" y2="1179.7" stroke="#000" stroke-width="1.8" stroke-linecap="butt"/>
<line x1="80.3" y1="1179.7" x2="83.7" y2="1179.7" stroke="#000" stroke-width="1.8" stroke-linecap="butt"/>
<text x="75.5" y="1190.1" font-size="29" text-anchor="end" font-weight="bold" fill="#000" stroke="#000" stroke-width="0.35" transform="translate(75.5 1190.1) scale(1 1.04) translate(-75.5 -1190.1)">0</text>
<line x1="80.3" y1="1122.04" x2="83.7" y2="1122.04" stroke="#000" stroke-width="1.8" stroke-linecap="butt"/>
<text x="75.5" y="1132.44" font-size="29" text-anchor="end" font-weight="bold" fill="#000" stroke="#000" stroke-width="0.35" transform="translate(75.5 1132.44) scale(1 1.04) translate(-75.5 -1132.44)">10</text>
<line x1="80.3" y1="1064.38" x2="83.7" y2="1064.38" stroke="#000" stroke-width="1.8" stroke-linecap="butt"/>
<text x="75.5" y="1074.78" font-size="29" text-anchor="end" font-weight="bold" fill="#000" stroke="#000" stroke-width="0.35" transform="translate(75.5 1074.78) scale(1 1.04) translate(-75.5 -1074.78)">20</text>
<line x1="80.3" y1="1006.72" x2="83.7" y2="1006.72" stroke="#000" stroke-width="1.8" stroke-linecap="butt"/>
<text x="75.5" y="1017.12" font-size="29" text-anchor="end" font-weight="bold" fill="#000" stroke="#000" stroke-width="0.35" transform="translate(75.5 1017.12) scale(1 1.04) translate(-75.5 -1017.12)">30</text>
<line x1="80.3" y1="949.06" x2="83.7" y2="949.06" stroke="#000" stroke-width="1.8" stroke-linecap="butt"/>
<text x="75.5" y="959.46" font-size="29" text-anchor="end" font-weight="bold" fill="#000" stroke="#000" stroke-width="0.35" transform="translate(75.5 959.46) scale(1 1.04) translate(-75.5 -959.46)">40</text>
<line x1="80.3" y1="891.4" x2="83.7" y2="891.4" stroke="#000" stroke-width="1.8" stroke-linecap="butt"/>
<text x="75.5" y="901.8" font-size="29" text-anchor="end" font-weight="bold" fill="#000" stroke="#000" stroke-width="0.35" transform="translate(75.5 901.8) scale(1 1.04) translate(-75.5 -901.8)">50</text>
<line x1="83.7" y1="1179.7" x2="83.7" y2="1183.1" stroke="#000" stroke-width="1.8" stroke-linecap="butt"/>
<text x="83.7" y="1214.5" font-size="29" text-anchor="middle" font-weight="bold" fill="#000" stroke="#000" stroke-width="0.35" transform="translate(83.7 1214.5) scale(1 1.04) translate(-83.7 -1214.5)">0</text>
<line x1="228.13" y1="1179.7" x2="228.13" y2="1183.1" stroke="#000" stroke-width="1.8" stroke-linecap="butt"/>
<text x="228.13" y="1214.5" font-size="29" text-anchor="middle" font-weight="bold" fill="#000" stroke="#000" stroke-width="0.35" transform="translate(228.13 1214.5) scale(1 1.04) translate(-228.13 -1214.5)">2</text>
<line x1="372.57" y1="1179.7" x2="372.57" y2="1183.1" stroke="#000" stroke-width="1.8" stroke-linecap="butt"/>
<text x="372.57" y="1214.5" font-size="29" text-anchor="middle" font-weight="bold" fill="#000" stroke="#000" stroke-width="0.35" transform="translate(372.57 1214.5) scale(1 1.04) translate(-372.57 -1214.5)">4</text>
<line x1="517" y1="1179.7" x2="517" y2="1183.1" stroke="#000" stroke-width="1.8" stroke-linecap="butt"/>
<text x="517" y="1214.5" font-size="29" text-anchor="middle" font-weight="bold" fill="#000" stroke="#000" stroke-width="0.35" transform="translate(517 1214.5) scale(1 1.04) translate(-517 -1214.5)">6</text>
<text x="300" y="1250.5" font-size="28" text-anchor="middle" font-weight="bold" fill="#000" stroke="#000" stroke-width="0.35" transform="translate(300 1250.5) scale(1 1.04) translate(-300 -1250.5)">Days</text>
<text x="32" y="1027" font-size="28.4" text-anchor="middle" font-weight="bold" fill="#000" stroke="#000" stroke-width="0.35" transform="rotate(-90 32 1027) translate(32 1027) scale(1 1.04) translate(-32 -1027)">Lantency (s)</text>
<path d="M155.92 938.68 L228.13 965.2 L300.35 1056.88 L372.57 1096.09 L444.78 1099.55" stroke="#64118E" stroke-width="1.8" fill="none" />
<line x1="155.92" y1="905.81" x2="155.92" y2="969.82" stroke="#64118E" stroke-width="2.3" stroke-linecap="butt"/>
<line x1="152.12" y1="905.81" x2="159.72" y2="905.81" stroke="#64118E" stroke-width="2.3" stroke-linecap="round"/>
<line x1="152.12" y1="969.82" x2="159.72" y2="969.82" stroke="#64118E" stroke-width="2.3" stroke-linecap="round"/>
<polygon points="155.92,934.08 151.72,941.68 160.12,941.68" fill="#64118E"/>
<line x1="228.13" y1="943.87" x2="228.13" y2="987.12" stroke="#64118E" stroke-width="2.3" stroke-linecap="butt"/>
<line x1="224.33" y1="943.87" x2="231.93" y2="943.87" stroke="#64118E" stroke-width="2.3" stroke-linecap="round"/>
<line x1="224.33" y1="987.12" x2="231.93" y2="987.12" stroke="#64118E" stroke-width="2.3" stroke-linecap="round"/>
<polygon points="228.13,960.6 223.93,968.2 232.33,968.2" fill="#64118E"/>
<line x1="300.35" y1="1032.67" x2="300.35" y2="1079.95" stroke="#64118E" stroke-width="2.3" stroke-linecap="butt"/>
<line x1="296.55" y1="1032.67" x2="304.15" y2="1032.67" stroke="#64118E" stroke-width="2.3" stroke-linecap="round"/>
<line x1="296.55" y1="1079.95" x2="304.15" y2="1079.95" stroke="#64118E" stroke-width="2.3" stroke-linecap="round"/>
<polygon points="300.35,1052.28 296.15,1059.88 304.55,1059.88" fill="#64118E"/>
<line x1="372.57" y1="1081.1" x2="372.57" y2="1111.66" stroke="#64118E" stroke-width="2.3" stroke-linecap="butt"/>
<line x1="368.77" y1="1081.1" x2="376.37" y2="1081.1" stroke="#64118E" stroke-width="2.3" stroke-linecap="round"/>
<line x1="368.77" y1="1111.66" x2="376.37" y2="1111.66" stroke="#64118E" stroke-width="2.3" stroke-linecap="round"/>
<polygon points="372.57,1091.49 368.37,1099.09 376.77,1099.09" fill="#64118E"/>
<line x1="444.78" y1="1075.91" x2="444.78" y2="1122.62" stroke="#64118E" stroke-width="2.3" stroke-linecap="butt"/>
<line x1="440.98" y1="1075.91" x2="448.58" y2="1075.91" stroke="#64118E" stroke-width="2.3" stroke-linecap="round"/>
<line x1="440.98" y1="1122.62" x2="448.58" y2="1122.62" stroke="#64118E" stroke-width="2.3" stroke-linecap="round"/>
<polygon points="444.78,1094.95 440.58,1102.55 448.98,1102.55" fill="#64118E"/>
<path d="M155.92 963.47 L228.13 1011.33 L300.35 1053.42 L372.57 1099.55 L444.78 1120.31" stroke="#D98BFF" stroke-width="1.8" fill="none" />
<line x1="155.92" y1="923.11" x2="155.92" y2="1002.11" stroke="#D98BFF" stroke-width="2.3" stroke-linecap="butt"/>
<line x1="152.12" y1="923.11" x2="159.72" y2="923.11" stroke="#D98BFF" stroke-width="2.3" stroke-linecap="round"/>
<line x1="152.12" y1="1002.11" x2="159.72" y2="1002.11" stroke="#D98BFF" stroke-width="2.3" stroke-linecap="round"/>
<rect x="152.42" y="959.97" width="7" height="7" fill="#D98BFF"/>
<line x1="228.13" y1="972.7" x2="228.13" y2="1050.54" stroke="#D98BFF" stroke-width="2.3" stroke-linecap="butt"/>
<line x1="224.33" y1="972.7" x2="231.93" y2="972.7" stroke="#D98BFF" stroke-width="2.3" stroke-linecap="round"/>
<line x1="224.33" y1="1050.54" x2="231.93" y2="1050.54" stroke="#D98BFF" stroke-width="2.3" stroke-linecap="round"/>
<rect x="224.63" y="1007.83" width="7" height="7" fill="#D98BFF"/>
<line x1="300.35" y1="1018.25" x2="300.35" y2="1090.33" stroke="#D98BFF" stroke-width="2.3" stroke-linecap="butt"/>
<line x1="296.55" y1="1018.25" x2="304.15" y2="1018.25" stroke="#D98BFF" stroke-width="2.3" stroke-linecap="round"/>
<line x1="296.55" y1="1090.33" x2="304.15" y2="1090.33" stroke="#D98BFF" stroke-width="2.3" stroke-linecap="round"/>
<rect x="296.85" y="1049.92" width="7" height="7" fill="#D98BFF"/>
<line x1="372.57" y1="1073.03" x2="372.57" y2="1124.92" stroke="#D98BFF" stroke-width="2.3" stroke-linecap="butt"/>
<line x1="368.77" y1="1073.03" x2="376.37" y2="1073.03" stroke="#D98BFF" stroke-width="2.3" stroke-linecap="round"/>
<line x1="368.77" y1="1124.92" x2="376.37" y2="1124.92" stroke="#D98BFF" stroke-width="2.3" stroke-linecap="round"/>
<rect x="369.07" y="1096.05" width="7" height="7" fill="#D98BFF"/>
<line x1="444.78" y1="1104.74" x2="444.78" y2="1135.88" stroke="#D98BFF" stroke-width="2.3" stroke-linecap="butt"/>
<line x1="440.98" y1="1104.74" x2="448.58" y2="1104.74" stroke="#D98BFF" stroke-width="2.3" stroke-linecap="round"/>
<line x1="440.98" y1="1135.88" x2="448.58" y2="1135.88" stroke="#D98BFF" stroke-width="2.3" stroke-linecap="round"/>
<rect x="441.28" y="1116.81" width="7" height="7" fill="#D98BFF"/>
<path d="M155.92 969.82 L228.13 1002.11 L300.35 1084.56 L372.57 1117.43 L444.78 1139.91" stroke="#4DBD1E" stroke-width="1.8" fill="none" />
<line x1="155.92" y1="927.73" x2="155.92" y2="1012.49" stroke="#4DBD1E" stroke-width="2.3" stroke-linecap="butt"/>
<line x1="152.12" y1="927.73" x2="159.72" y2="927.73" stroke="#4DBD1E" stroke-width="2.3" stroke-linecap="round"/>
<line x1="152.12" y1="1012.49" x2="159.72" y2="1012.49" stroke="#4DBD1E" stroke-width="2.3" stroke-linecap="round"/>
<circle cx="155.92" cy="969.82" r="3.6" fill="#4DBD1E"/>
<line x1="228.13" y1="965.2" x2="228.13" y2="1038.43" stroke="#4DBD1E" stroke-width="2.3" stroke-linecap="butt"/>
<line x1="224.33" y1="965.2" x2="231.93" y2="965.2" stroke="#4DBD1E" stroke-width="2.3" stroke-linecap="round"/>
<line x1="224.33" y1="1038.43" x2="231.93" y2="1038.43" stroke="#4DBD1E" stroke-width="2.3" stroke-linecap="round"/>
<circle cx="228.13" cy="1002.11" r="3.6" fill="#4DBD1E"/>
<line x1="300.35" y1="1054.58" x2="300.35" y2="1114.54" stroke="#4DBD1E" stroke-width="2.3" stroke-linecap="butt"/>
<line x1="296.55" y1="1054.58" x2="304.15" y2="1054.58" stroke="#4DBD1E" stroke-width="2.3" stroke-linecap="round"/>
<line x1="296.55" y1="1114.54" x2="304.15" y2="1114.54" stroke="#4DBD1E" stroke-width="2.3" stroke-linecap="round"/>
<circle cx="300.35" cy="1084.56" r="3.6" fill="#4DBD1E"/>
<line x1="372.57" y1="1103.01" x2="372.57" y2="1132.42" stroke="#4DBD1E" stroke-width="2.3" stroke-linecap="butt"/>
<line x1="368.77" y1="1103.01" x2="376.37" y2="1103.01" stroke="#4DBD1E" stroke-width="2.3" stroke-linecap="round"/>
<line x1="368.77" y1="1132.42" x2="376.37" y2="1132.42" stroke="#4DBD1E" stroke-width="2.3" stroke-linecap="round"/>
<circle cx="372.57" cy="1117.43" r="3.6" fill="#4DBD1E"/>
<line x1="444.78" y1="1131.84" x2="444.78" y2="1147.99" stroke="#4DBD1E" stroke-width="2.3" stroke-linecap="butt"/>
<line x1="440.98" y1="1131.84" x2="448.58" y2="1131.84" stroke="#4DBD1E" stroke-width="2.3" stroke-linecap="round"/>
<line x1="440.98" y1="1147.99" x2="448.58" y2="1147.99" stroke="#4DBD1E" stroke-width="2.3" stroke-linecap="round"/>
<circle cx="444.78" cy="1139.91" r="3.6" fill="#4DBD1E"/>
<line x1="443" y1="872.7" x2="463.5" y2="872.7" stroke="#4DBD1E" stroke-width="1.6" stroke-linecap="butt"/>
<circle cx="453.3" cy="872.7" r="3.6" fill="#4DBD1E"/>
<text x="472.9" y="882.9" font-size="28.6" text-anchor="start" font-weight="bold" fill="#000" stroke="#000" stroke-width="0.35" transform="translate(472.9 882.9) scale(1 1.04) translate(-472.9 -882.9)">Con</text>
<line x1="443" y1="913.1" x2="463.5" y2="913.1" stroke="#D98BFF" stroke-width="1.6" stroke-linecap="butt"/>
<rect x="449.8" y="909.6" width="7" height="7" fill="#D98BFF"/>
<text x="472.9" y="923.3" font-size="28.6" text-anchor="start" font-weight="bold" fill="#000" stroke="#000" stroke-width="0.35" transform="translate(472.9 923.3) scale(1 1.04) translate(-472.9 -923.3)">H14d-R14d</text>
<line x1="443" y1="954.2" x2="463.5" y2="954.2" stroke="#64118E" stroke-width="1.6" stroke-linecap="butt"/>
<polygon points="453.3,949.6 449.1,957.2 457.5,957.2" fill="#64118E"/>
<text x="472.9" y="964.4" font-size="28.6" text-anchor="start" font-weight="bold" fill="#000" stroke="#000" stroke-width="0.35" transform="translate(472.9 964.4) scale(1 1.04) translate(-472.9 -964.4)">H14d-R28d</text>
<path d="M458.5 1099.2 H463.5 V1142.4 H458.5" stroke="#000" stroke-width="2.4" fill="none" stroke-linecap="round" stroke-linejoin="round"/>
<text x="458.2" y="1121" font-size="35" text-anchor="middle" font-weight="bold" fill="#000" stroke="#000" stroke-width="0.35" transform="rotate(90 458.2 1121)">**</text>
<text x="617.7" y="851.8" font-size="48.5" text-anchor="start" font-weight="bold" fill="#1a1a1a" stroke="#1a1a1a" stroke-width="0.35" transform="translate(617.7 851.8) scale(1 1.04) translate(-617.7 -851.8)">F</text>
<path d="M667.09 922.89 A130.7 129.4 0 0 1 852.67 923.45" fill="none" stroke="#4848FF" stroke-width="1.3"/>
<path d="M852.67 923.45 A130.7 129.4 0 0 1 853.87 1103.93" fill="none" stroke="#44EE44" stroke-width="1.3"/>
<path d="M853.87 1103.93 A130.7 129.4 0 0 1 669.59 1108.12" fill="none" stroke="#EE3B45" stroke-width="1.3"/>
<path d="M669.59 1108.12 A130.7 129.4 0 0 1 667.09 922.89" fill="none" stroke="#FFF033" stroke-width="1.3"/>
<line x1="667.09" y1="922.89" x2="762.17" y2="1014.44" stroke="#FFF033" stroke-width="1.4" stroke-linecap="butt"/>
<line x1="712.07" y1="965.26" x2="762.67" y2="1013.94" stroke="#4848FF" stroke-width="1" stroke-linecap="butt"/>
<line x1="852.67" y1="923.45" x2="762.17" y2="1014.44" stroke="#44EE44" stroke-width="1.4" stroke-linecap="butt"/>
<line x1="852.07" y1="923.05" x2="821.81" y2="953.31" stroke="#4848FF" stroke-width="1" stroke-linecap="butt"/>
<line x1="669.09" y1="1107.62" x2="761.67" y2="1013.94" stroke="#FFF033" stroke-width="1" stroke-linecap="butt"/>
<line x1="669.99" y1="1108.52" x2="762.57" y2="1014.84" stroke="#EE3B45" stroke-width="1" stroke-linecap="butt"/>
<line x1="854.37" y1="1103.43" x2="762.67" y2="1013.94" stroke="#44EE44" stroke-width="1" stroke-linecap="butt"/>
<line x1="853.47" y1="1104.33" x2="761.77" y2="1014.84" stroke="#EE3B45" stroke-width="1" stroke-linecap="butt"/>
<circle cx="749.64" cy="1077.09" r="10" fill="none" stroke="#9955FF" stroke-width="1"/>
<path d="M734.86 1130.42C735.05 1129.83 739.06 1128.76 735.98 1126.89C732.9 1125.01 722.86 1121.59 716.39 1119.18C709.91 1116.77 703 1114.44 697.11 1112.43C691.22 1110.42 684.93 1108.68 681.04 1107.13C677.16 1105.58 676.22 1105.92 673.82 1103.11C671.41 1100.3 668.86 1094.54 666.59 1090.26C664.31 1085.98 662.3 1081.43 660.16 1077.41C658.02 1073.39 656.41 1069.78 653.73 1066.16C651.06 1062.55 646.77 1058.4 644.1 1055.72C641.42 1053.05 638.69 1052.91 637.67 1050.1C636.65 1047.29 637.19 1042.6 637.99 1038.86C638.8 1035.11 640.13 1030.23 642.49 1027.61C644.85 1024.99 648.92 1023.51 652.13 1023.11C655.34 1022.71 658.29 1023.51 661.77 1025.2C665.25 1026.89 669.53 1029.89 673.01 1033.23C676.49 1036.58 679.71 1041.13 682.65 1045.28C685.6 1049.43 687.74 1054.12 690.68 1058.13C693.63 1062.15 696.84 1066.43 700.32 1069.38C703.8 1072.32 707.82 1074.52 711.57 1075.8C715.31 1077.09 719.33 1077.36 722.81 1077.09C726.29 1076.82 729.24 1075.75 732.45 1074.2C735.66 1072.64 739.14 1070.72 742.09 1067.77C745.03 1064.83 748.25 1060.81 750.12 1056.53C751.99 1052.24 753.07 1046.62 753.33 1042.07C753.6 1037.52 753.07 1032.56 751.73 1029.22C750.39 1025.87 747.98 1023.73 745.3 1021.99C742.62 1020.25 738.61 1019.04 735.66 1018.78C732.72 1018.51 729.37 1019.04 727.63 1020.38C725.89 1021.72 724.69 1024.26 725.22 1026.81C725.76 1029.35 728.84 1032.56 730.84 1035.64C732.85 1038.72 735.13 1041.8 737.27 1045.28C739.41 1048.76 741.82 1052.51 743.69 1056.53C745.57 1060.54 747.31 1065.36 748.51 1069.38C749.72 1073.39 750.92 1076.07 750.92 1080.62C750.92 1085.17 749.45 1091.6 748.51 1096.69C747.58 1101.77 746.64 1106.59 745.3 1111.14C743.96 1115.7 742.03 1121.37 740.48 1124C738.93 1126.62 736.73 1126.41 735.98 1126.89M753.33 1072.59C753.87 1069.11 755.74 1058.4 756.55 1051.71C757.35 1045.01 757.22 1038.59 758.15 1032.43C759.09 1026.27 760.96 1019.85 762.17 1014.76C763.37 1009.67 764.18 1006.73 765.38 1001.91C766.59 997.09 768.06 990.53 769.4 985.84C770.74 981.16 771.54 977.54 773.41 973.8C775.29 970.05 777.83 966.3 780.64 963.35C783.45 960.41 787.34 958.67 790.28 956.12C793.23 953.58 796.17 951.17 798.31 948.09C800.46 945.01 801.12 940.33 803.13 937.65C805.14 934.97 808.43 932.03 810.36 932.03C812.29 932.03 814.56 935.11 814.7 937.65C814.83 940.19 812.82 943.81 811.16 947.29C809.5 950.77 806.13 955.05 804.74 958.53C803.35 962.01 802.54 965.23 802.81 968.17C803.08 971.12 804.15 973.66 806.35 976.2C808.54 978.75 812.77 981.56 815.98 983.43C819.2 985.31 823.56 985.71 825.62 987.45C827.68 989.19 828.62 991.2 828.35 993.88C828.09 996.55 826.61 1000.97 824.02 1003.51C821.42 1006.06 815.98 1007.4 812.77 1009.14C809.56 1010.88 807.42 1012.08 804.74 1013.96C802.06 1015.83 798.98 1017.84 796.71 1020.38C794.43 1022.93 792.69 1025.6 791.08 1029.22C789.48 1032.83 788.54 1037.78 787.07 1042.07C785.6 1046.35 783.45 1050.64 782.25 1054.92C781.04 1059.2 780.37 1062.95 779.84 1067.77C779.3 1072.59 779.3 1079.02 779.04 1083.84C778.77 1088.65 778.37 1094.54 778.23 1096.69M817.59 994.68C816.25 995.08 811.57 995.62 809.56 997.09C807.55 998.56 805.94 1001.1 805.54 1003.51C805.14 1005.92 807.82 1009.14 807.15 1011.55C806.48 1013.96 803.53 1015.96 801.53 1017.97C799.52 1019.98 796.17 1021.72 795.1 1023.59C794.03 1025.47 794.03 1028.33 795.1 1029.22C796.17 1030.1 799.65 1030.1 801.53 1028.9C803.4 1027.69 804.47 1024.48 806.35 1021.99C808.22 1019.5 810.36 1015.91 812.77 1013.96C815.18 1012 818.61 1010.26 820.8 1010.26C823 1010.26 825.35 1012.27 825.94 1013.96C826.53 1015.64 825.68 1019.04 824.34 1020.38C823 1021.72 820.64 1022.26 817.91 1021.99C815.18 1021.72 811.49 1018.91 807.95 1018.78C804.42 1018.64 801.26 1020.52 796.71 1021.18C792.16 1021.85 784.93 1022.66 780.64 1022.79C776.36 1022.93 773.68 1021.59 771 1021.99C768.33 1022.39 766.72 1022.93 764.58 1025.2C762.44 1027.48 760.03 1031.22 758.15 1035.64C756.28 1040.06 754.54 1046.35 753.33 1051.71C752.13 1057.06 751.19 1062.42 750.92 1067.77C750.66 1073.13 750.79 1079.02 751.73 1083.84C752.66 1088.65 754.4 1094.01 756.55 1096.69C758.69 1099.36 760.56 1099.36 764.58 1099.9C768.59 1100.44 775.29 1100.03 780.64 1099.9C786 1099.77 791.35 1099.5 796.71 1099.1C802.06 1098.69 806.88 1098.48 812.77 1097.49C818.66 1096.5 828.65 1093.42 832.05 1093.15C835.45 1092.88 832.82 1097.44 833.17 1095.88C833.52 1094.33 834.06 1087.72 834.14 1083.84C834.22 1079.95 834.54 1076.34 833.65 1072.59C832.77 1068.84 831.24 1064.16 828.84 1061.35C826.43 1058.53 823.21 1056.79 819.2 1055.72C815.18 1054.65 809.83 1054.25 804.74 1054.92C799.65 1055.59 794.03 1057.86 788.67 1059.74C783.32 1061.61 777.7 1064.02 772.61 1066.16C767.52 1068.31 762.7 1070.45 758.15 1072.59C753.6 1074.73 749.59 1077.14 745.3 1079.02C741.02 1080.89 737.27 1083.3 732.45 1083.84C727.63 1084.37 721.2 1083.84 716.39 1082.23C711.57 1080.62 705.68 1075.54 703.53 1074.2M748.51 1071.79C747.44 1072.99 744.77 1075.94 742.09 1079.02C739.41 1082.1 735.66 1086.51 732.45 1090.26C729.24 1094.01 726.56 1098.83 722.81 1101.51C719.06 1104.18 714.24 1106.06 709.96 1106.33C705.68 1106.59 700.86 1104.99 697.11 1103.11C693.36 1101.24 689.61 1098.29 687.47 1095.08C685.33 1091.87 683.99 1087.05 684.26 1083.84C684.52 1080.62 686.4 1077.73 689.08 1075.8C691.75 1073.88 695.77 1072.4 700.32 1072.27C704.87 1072.14 711.03 1074.01 716.39 1075C721.74 1075.99 727.1 1077.81 732.45 1078.21C737.8 1078.61 745.84 1077.54 748.51 1077.41M779.04 1008.33C780.11 1008.87 783.99 1009.14 785.46 1011.55C786.93 1013.96 787.6 1018.24 787.87 1022.79C788.14 1027.34 786.67 1033.5 787.07 1038.86C787.47 1044.21 789.48 1049.56 790.28 1054.92C791.08 1060.27 792.16 1066.16 791.89 1070.98C791.62 1075.8 790.55 1080.35 788.67 1083.84C786.8 1087.32 783.86 1090.26 780.64 1091.87C777.43 1093.47 773.15 1093.74 769.4 1093.47C765.65 1093.21 760.83 1092.4 758.15 1090.26C755.48 1088.12 753.6 1084.91 753.33 1080.62C753.07 1076.34 754.67 1069.91 756.55 1064.56C758.42 1059.2 762.17 1053.85 764.58 1048.49C766.99 1043.14 769.67 1037.78 771 1032.43C772.34 1027.07 771.27 1020.38 772.61 1016.37C773.95 1012.35 777.97 1009.67 779.04 1008.33M759.76 1040.46C761.1 1041 765.92 1041.8 767.79 1043.67C769.67 1045.55 771.54 1048.76 771 1051.71C770.47 1054.65 767.79 1058.13 764.58 1061.35C761.37 1064.56 756.01 1068.04 751.73 1070.98C747.44 1073.93 742.36 1078.48 738.88 1079.02C735.39 1079.55 732.72 1076.87 730.84 1074.2C728.97 1071.52 727.36 1066.7 727.63 1062.95C727.9 1059.2 729.77 1054.92 732.45 1051.71C735.13 1048.49 739.14 1045.55 743.69 1043.67C748.25 1041.8 757.08 1041 759.76 1040.46M769.4 1026C770.74 1027.61 775.29 1031.36 777.43 1035.64C779.57 1039.93 780.11 1046.35 782.25 1051.71C784.39 1057.06 788.81 1063.22 790.28 1067.77C791.75 1072.32 792.16 1075.54 791.08 1079.02C790.01 1082.5 786.93 1085.71 783.86 1088.65C780.78 1091.6 775.82 1093.47 772.61 1096.69C769.4 1099.9 766.99 1106.86 764.58 1107.93C762.17 1109 759.63 1106.06 758.15 1103.11C756.68 1100.17 756.01 1094.81 755.74 1090.26C755.48 1085.71 755.61 1080.89 756.55 1075.8C757.48 1070.72 759.76 1065.09 761.37 1059.74C762.97 1054.38 764.85 1049.3 766.18 1043.67C767.52 1038.05 768.86 1028.95 769.4 1026M780.64 1040.46C782.78 1041.8 790.28 1045.01 793.49 1048.49C796.71 1051.97 798.58 1057.06 799.92 1061.35C801.26 1065.63 802.33 1070.18 801.53 1074.2C800.72 1078.21 798.05 1082.5 795.1 1085.44C792.16 1088.39 788.94 1090.26 783.86 1091.87C778.77 1093.47 771.54 1093.74 764.58 1095.08C757.62 1096.42 747.18 1099.9 742.09 1099.9C737 1099.9 735.66 1097.22 734.06 1095.08C732.45 1092.94 731.65 1089.99 732.45 1087.05C733.25 1084.1 736.2 1080.62 738.88 1077.41C741.55 1074.2 746.91 1069.38 748.51 1067.77" fill="none" stroke="#2a2a2a" stroke-width="1.05" stroke-linejoin="round"/>
<path d="M956.69 922.89 A130.7 129.4 0 0 1 1142.27 923.45" fill="none" stroke="#4848FF" stroke-width="1.3"/>
<path d="M1142.27 923.45 A130.7 129.4 0 0 1 1143.47 1103.93" fill="none" stroke="#44EE44" stroke-width="1.3"/>
<path d="M1143.47 1103.93 A130.7 129.4 0 0 1 959.19 1108.12" fill="none" stroke="#EE3B45" stroke-width="1.3"/>
<path d="M959.19 1108.12 A130.7 129.4 0 0 1 956.69 922.89" fill="none" stroke="#FFF033" stroke-width="1.3"/>
<line x1="956.69" y1="922.89" x2="1051.77" y2="1014.44" stroke="#FFF033" stroke-width="1.4" stroke-linecap="butt"/>
<line x1="1001.67" y1="965.26" x2="1052.27" y2="1013.94" stroke="#4848FF" stroke-width="1" stroke-linecap="butt"/>
<line x1="1142.27" y1="923.45" x2="1051.77" y2="1014.44" stroke="#44EE44" stroke-width="1.4" stroke-linecap="butt"/>
<line x1="1141.67" y1="923.05" x2="1111.41" y2="953.31" stroke="#4848FF" stroke-width="1" stroke-linecap="butt"/>
<line x1="958.69" y1="1107.62" x2="1051.27" y2="1013.94" stroke="#FFF033" stroke-width="1" stroke-linecap="butt"/>
<line x1="959.59" y1="1108.52" x2="1052.17" y2="1014.84" stroke="#EE3B45" stroke-width="1" stroke-linecap="butt"/>
<line x1="1143.97" y1="1103.43" x2="1052.27" y2="1013.94" stroke="#44EE44" stroke-width="1" stroke-linecap="butt"/>
<line x1="1143.07" y1="1104.33" x2="1051.37" y2="1014.84" stroke="#EE3B45" stroke-width="1" stroke-linecap="butt"/>
<circle cx="1039.24" cy="1077.09" r="10" fill="none" stroke="#9955FF" stroke-width="1"/>
<path d="M949.76 1052.51C949.09 1051.04 946.95 1047.82 945.74 1043.67C944.54 1039.52 943.74 1032.97 942.53 1027.61C941.33 1022.26 940.26 1016.9 938.52 1011.55C936.78 1006.19 934.1 1000.84 932.09 995.48C930.08 990.13 927.27 983.43 926.47 979.42C925.66 975.4 925.8 974.06 927.27 971.39C928.74 968.71 932.09 966.57 935.3 963.35C938.52 960.14 943.07 956.12 946.55 952.11C950.03 948.09 953.51 943.27 956.19 939.26C958.86 935.24 961.01 931.09 962.61 928.01C964.22 924.93 963.95 922.39 965.82 920.78C967.7 919.18 970.38 919.44 973.86 918.37C977.34 917.3 982.42 916.23 986.71 914.36C990.99 912.48 995.28 909.67 999.56 907.13C1003.84 904.59 1008.4 900.97 1012.41 899.1C1016.43 897.22 1019.64 895.62 1023.66 895.88C1027.67 896.15 1032.22 899.1 1036.51 900.7C1040.79 902.31 1045.08 903.92 1049.36 905.52C1053.64 907.13 1057.93 908.73 1062.21 910.34C1066.49 911.95 1070.78 913.82 1075.06 915.16C1079.35 916.5 1083.36 917.3 1087.91 918.37C1092.46 919.44 1097.82 920.92 1102.37 921.59C1106.92 922.26 1111.74 920.78 1115.22 922.39C1118.7 924 1121.25 927.07 1123.25 931.22C1125.26 935.37 1126.47 941.67 1127.27 947.29C1128.07 952.91 1128.48 958.8 1128.07 964.96C1127.67 971.12 1126.47 978.35 1124.86 984.24C1123.25 990.13 1121.11 995.48 1118.44 1000.3C1115.76 1005.12 1112.01 1009.4 1108.8 1013.15C1105.58 1016.9 1102.64 1020.11 1099.16 1022.79C1095.68 1025.47 1091.66 1027.74 1087.91 1029.22C1084.16 1030.69 1080.68 1031.63 1076.67 1031.63C1072.65 1031.63 1068.1 1030.42 1063.82 1029.22C1059.53 1028.01 1055.25 1026.27 1050.97 1024.4C1046.68 1022.52 1042.13 1019.85 1038.11 1017.97C1034.1 1016.1 1030.89 1013.96 1026.87 1013.15C1022.85 1012.35 1018.57 1012.62 1014.02 1013.15C1009.47 1013.69 1004.38 1015.7 999.56 1016.37C994.74 1017.03 989.65 1017.84 985.1 1017.17C980.55 1016.5 976.27 1014.89 972.25 1012.35C968.23 1009.81 964.08 1005.52 961.01 1001.91C957.93 998.29 955.25 994.68 953.78 990.66C952.3 986.65 951.5 982.1 952.17 977.81C952.84 973.53 954.98 969.51 957.79 964.96C960.6 960.41 965.02 954.79 969.04 950.5C973.05 946.22 977.34 942.74 981.89 939.26C986.44 935.78 991.26 932.83 996.35 929.62C1001.43 926.41 1007.59 923.19 1012.41 919.98C1017.23 916.77 1021.51 913.55 1025.26 910.34C1029.01 907.13 1031.96 903.25 1034.9 900.7C1037.85 898.16 1039.72 895.48 1042.93 895.08C1046.15 894.68 1050.16 896.29 1054.18 898.29C1058.19 900.3 1063.01 903.78 1067.03 907.13C1071.05 910.48 1075.06 914.09 1078.27 918.37C1081.49 922.66 1084.16 927.74 1086.31 932.83C1088.45 937.92 1089.25 943.27 1091.13 948.9C1093 954.52 1095.81 960.68 1097.55 966.57C1099.29 972.46 1100.9 978.35 1101.57 984.24C1102.24 990.13 1102.24 996.02 1101.57 1001.91C1100.9 1007.8 1099.29 1013.96 1097.55 1019.58C1095.81 1025.2 1093.27 1030.82 1091.13 1035.64C1088.98 1040.46 1086.57 1044.48 1084.7 1048.49C1082.83 1052.51 1081.49 1055.72 1079.88 1059.74C1078.27 1063.76 1076.67 1069.65 1075.06 1072.59C1073.46 1075.54 1071.05 1076.61 1070.24 1077.41M1070.24 1032.43C1068.64 1030.29 1063.82 1023.59 1060.6 1019.58C1057.39 1015.56 1053.91 1011.81 1050.97 1008.33C1048.02 1004.85 1045.34 1002.71 1042.93 998.69C1040.52 994.68 1038.11 988.79 1036.51 984.24C1034.9 979.69 1034.23 975.94 1033.29 971.39C1032.36 966.83 1031.55 960.81 1030.89 956.93C1030.22 953.05 1030.48 950.05 1029.28 948.09C1028.07 946.14 1025.4 945.2 1023.66 945.2C1021.92 945.2 1019.77 946.41 1018.84 948.09C1017.9 949.78 1017.5 953.05 1018.03 955.32C1018.57 957.6 1020.04 959.07 1022.05 961.75C1024.06 964.42 1027.54 967.9 1030.08 971.39C1032.63 974.87 1036.11 978.61 1037.31 982.63C1038.52 986.65 1038.25 991.2 1037.31 995.48C1036.37 999.77 1034.23 1005.12 1031.69 1008.33C1029.14 1011.55 1026.33 1013.15 1022.05 1014.76C1017.77 1016.37 1011.88 1017.03 1005.99 1017.97C1000.1 1018.91 992.06 1018.78 986.71 1020.38C981.35 1021.99 977.07 1024 973.86 1027.61C970.64 1031.22 967.97 1036.98 967.43 1042.07C966.9 1047.16 968.5 1053.05 970.64 1058.13C972.79 1063.22 976.53 1068.04 980.28 1072.59C984.03 1077.14 988.31 1081.69 993.13 1085.44C997.95 1089.19 1003.58 1092.14 1009.2 1095.08C1014.82 1098.03 1022.05 1100.44 1026.87 1103.11C1031.69 1105.79 1034.63 1108.73 1038.11 1111.14C1041.59 1113.55 1043.74 1116.5 1047.75 1117.57C1051.77 1118.64 1057.39 1117.84 1062.21 1117.57C1067.03 1117.3 1071.85 1117.17 1076.67 1115.96C1081.49 1114.76 1088.18 1112.48 1091.13 1110.34C1094.07 1108.2 1094.34 1106.46 1094.34 1103.11C1094.34 1099.77 1092.46 1095.08 1091.13 1090.26C1089.79 1085.44 1087.91 1079.55 1086.31 1074.2C1084.7 1068.84 1083.09 1062.95 1081.49 1058.13C1079.88 1053.31 1078.27 1049.3 1076.67 1045.28C1075.06 1041.27 1073.72 1038.32 1071.85 1034.04C1069.97 1029.75 1067.3 1025.2 1065.42 1019.58C1063.55 1013.96 1061.67 1007.26 1060.6 1000.3C1059.53 993.34 1058.6 984.5 1059 977.81C1059.4 971.12 1060.87 965.76 1063.01 960.14C1065.16 954.52 1068.23 949.16 1071.85 944.08C1075.46 938.99 1080.15 933.37 1084.7 929.62C1089.25 925.87 1093.8 922.79 1099.16 921.59C1104.51 920.38 1112.68 919.98 1116.83 922.39C1120.98 924.8 1122.85 931.09 1124.06 936.04C1125.26 941 1124.99 946.22 1124.06 952.11C1123.12 958 1120.71 965.5 1118.44 971.39C1116.16 977.28 1112.81 982.1 1110.4 987.45C1107.99 992.8 1105.85 998.16 1103.98 1003.51C1102.1 1008.87 1100.76 1014.22 1099.16 1019.58C1097.55 1024.93 1096.21 1030.29 1094.34 1035.64C1092.46 1041 1089.79 1047.69 1087.91 1051.71C1086.04 1055.72 1083.9 1058.4 1083.09 1059.74M1079.88 1016.37C1081.49 1015.7 1086.57 1012.35 1089.52 1012.35C1092.46 1012.35 1095.68 1014.09 1097.55 1016.37C1099.43 1018.64 1100.5 1022.26 1100.76 1026C1101.03 1029.75 1100.5 1035.11 1099.16 1038.86C1097.82 1042.6 1095.95 1045.55 1092.73 1048.49C1089.52 1051.44 1084.7 1054.65 1079.88 1056.53C1075.06 1058.4 1069.17 1059.47 1063.82 1059.74C1058.46 1060.01 1051.77 1059.47 1047.75 1058.13C1043.74 1056.79 1040.79 1054.12 1039.72 1051.71C1038.65 1049.3 1038.92 1045.82 1041.33 1043.67C1043.74 1041.53 1050.43 1039.39 1054.18 1038.86C1057.93 1038.32 1062.75 1039.39 1063.82 1040.46C1064.89 1041.53 1062.48 1044.48 1060.6 1045.28C1058.73 1046.08 1054.31 1046.08 1052.57 1045.28C1050.83 1044.48 1050.03 1042.07 1050.16 1040.46C1050.3 1038.86 1051.37 1036.18 1053.38 1035.64C1055.38 1035.11 1059.67 1035.64 1062.21 1037.25C1064.75 1038.86 1067.83 1042.07 1068.64 1045.28C1069.44 1048.49 1067.83 1052.78 1067.03 1056.53C1066.23 1060.27 1064.08 1064.83 1063.82 1067.77C1063.55 1070.72 1063.82 1072.32 1065.42 1074.2C1067.03 1076.07 1070.78 1077.95 1073.46 1079.02C1076.13 1080.09 1079.61 1081.43 1081.49 1080.62C1083.36 1079.82 1084.7 1077.14 1084.7 1074.2C1084.7 1071.25 1082.83 1066.97 1081.49 1062.95C1080.15 1058.94 1078.27 1054.38 1076.67 1050.1C1075.06 1045.82 1072.65 1041.53 1071.85 1037.25C1071.05 1032.97 1070.51 1027.88 1071.85 1024.4C1073.19 1020.92 1078.54 1017.7 1079.88 1016.37M1031.69 1062.95C1032.49 1061.61 1034.1 1057.06 1036.51 1054.92C1038.92 1052.78 1041.86 1051.17 1046.15 1050.1C1050.43 1049.03 1056.86 1049.3 1062.21 1048.49C1067.57 1047.69 1073.72 1046.35 1078.27 1045.28C1082.83 1044.21 1086.31 1043.94 1089.52 1042.07C1092.73 1040.19 1095.95 1037.25 1097.55 1034.04C1099.16 1030.82 1098.89 1024.67 1099.16 1022.79M1042.93 1054.92C1043.74 1055.99 1045.61 1060.01 1047.75 1061.35C1049.89 1062.68 1053.91 1063.76 1055.78 1062.95C1057.66 1062.15 1057.93 1059.47 1059 1056.53C1060.07 1053.58 1061.14 1048.76 1062.21 1045.28C1063.28 1041.8 1064.89 1037.25 1065.42 1035.64M1049.36 1085.44C1048.29 1085.44 1045.08 1086.24 1042.93 1085.44C1040.79 1084.64 1038.38 1082.76 1036.51 1080.62C1034.63 1078.48 1032.76 1075.27 1031.69 1072.59C1030.62 1069.91 1029.81 1067.24 1030.08 1064.56C1030.35 1061.88 1031.15 1057.6 1033.29 1056.53C1035.44 1055.46 1039.99 1057.06 1042.93 1058.13C1045.88 1059.2 1048.82 1061.08 1050.97 1062.95C1053.11 1064.83 1055.25 1066.43 1055.78 1069.38C1056.32 1072.32 1055.25 1077.95 1054.18 1080.62C1053.11 1083.3 1050.16 1084.64 1049.36 1085.44M1054.18 1056.53C1054.71 1058.4 1055.25 1064.56 1057.39 1067.77C1059.53 1070.98 1064.62 1075.27 1067.03 1075.8C1069.44 1076.34 1070.51 1073.66 1071.85 1070.98C1073.19 1068.31 1072.92 1062.68 1075.06 1059.74C1077.2 1056.79 1081.49 1055.19 1084.7 1053.31C1087.91 1051.44 1092.73 1049.3 1094.34 1048.49" fill="none" stroke="#2a2a2a" stroke-width="1.05" stroke-linejoin="round"/>
<path d="M1236.09 922.89 A130.7 129.4 0 0 1 1421.67 923.45" fill="none" stroke="#4848FF" stroke-width="1.3"/>
<path d="M1421.67 923.45 A130.7 129.4 0 0 1 1422.87 1103.93" fill="none" stroke="#44EE44" stroke-width="1.3"/>
<path d="M1422.87 1103.93 A130.7 129.4 0 0 1 1238.59 1108.12" fill="none" stroke="#EE3B45" stroke-width="1.3"/>
<path d="M1238.59 1108.12 A130.7 129.4 0 0 1 1236.09 922.89" fill="none" stroke="#FFF033" stroke-width="1.3"/>
<line x1="1236.09" y1="922.89" x2="1331.17" y2="1014.44" stroke="#FFF033" stroke-width="1.4" stroke-linecap="butt"/>
<line x1="1281.07" y1="965.26" x2="1331.67" y2="1013.94" stroke="#4848FF" stroke-width="1" stroke-linecap="butt"/>
<line x1="1421.67" y1="923.45" x2="1331.17" y2="1014.44" stroke="#44EE44" stroke-width="1.4" stroke-linecap="butt"/>
<line x1="1421.07" y1="923.05" x2="1390.81" y2="953.31" stroke="#4848FF" stroke-width="1" stroke-linecap="butt"/>
<line x1="1238.09" y1="1107.62" x2="1330.67" y2="1013.94" stroke="#FFF033" stroke-width="1" stroke-linecap="butt"/>
<line x1="1238.99" y1="1108.52" x2="1331.57" y2="1014.84" stroke="#EE3B45" stroke-width="1" stroke-linecap="butt"/>
<line x1="1423.37" y1="1103.43" x2="1331.67" y2="1013.94" stroke="#44EE44" stroke-width="1" stroke-linecap="butt"/>
<line x1="1422.47" y1="1104.33" x2="1330.77" y2="1014.84" stroke="#EE3B45" stroke-width="1" stroke-linecap="butt"/>
<circle cx="1318.64" cy="1077.09" r="10" fill="none" stroke="#9955FF" stroke-width="1"/>
<path d="M1362.49 905.52C1360.35 905.12 1354.46 902.71 1349.64 903.11C1344.82 903.51 1338.13 905.39 1333.58 907.93C1329.03 910.48 1325.55 914.22 1322.33 918.37C1319.12 922.52 1316.18 927.74 1314.3 932.83C1312.43 937.92 1310.82 943.01 1311.09 948.9C1311.36 954.79 1314.03 961.75 1315.91 968.17C1317.78 974.6 1320.19 981.56 1322.33 987.45C1324.48 993.34 1327.15 998.16 1328.76 1003.51C1330.37 1008.87 1331.7 1014.22 1331.97 1019.58C1332.24 1024.93 1331.44 1030.29 1330.37 1035.64C1329.29 1041 1327.15 1046.35 1325.55 1051.71C1323.94 1057.06 1322.07 1062.42 1320.73 1067.77C1319.39 1073.13 1318.85 1078.48 1317.51 1083.84C1316.18 1089.19 1314.84 1095.62 1312.69 1099.9C1310.55 1104.18 1307.07 1107.66 1304.66 1109.54C1302.25 1111.41 1300.11 1111.68 1298.24 1111.14C1296.36 1110.61 1293.95 1108.2 1293.42 1106.33C1292.88 1104.45 1293.69 1102.31 1295.02 1099.9C1296.36 1097.49 1299.31 1094.81 1301.45 1091.87C1303.59 1088.92 1305.47 1085.44 1307.88 1082.23C1310.29 1079.02 1314.03 1075.8 1315.91 1072.59C1317.78 1069.38 1319.12 1065.9 1319.12 1062.95C1319.12 1060.01 1317.78 1057.33 1315.91 1054.92C1314.03 1052.51 1310.55 1051.71 1307.88 1048.49C1305.2 1045.28 1301.58 1039.93 1299.84 1035.64C1298.1 1031.36 1297.17 1027.34 1297.43 1022.79C1297.7 1018.24 1299.17 1013.15 1301.45 1008.33C1303.73 1003.51 1307.61 997.89 1311.09 993.88C1314.57 989.86 1318.05 987.99 1322.33 984.24C1326.62 980.49 1331.44 975.4 1336.79 971.39C1342.15 967.37 1349.64 964.16 1354.46 960.14C1359.28 956.12 1362.49 952.11 1365.71 947.29C1368.92 942.47 1371.06 936.58 1373.74 931.22C1376.42 925.87 1381.77 918.51 1381.77 915.16C1381.77 911.81 1376.95 911.95 1373.74 911.14C1370.53 910.34 1366.51 909.4 1362.49 910.34C1358.48 911.28 1353.39 913.82 1349.64 916.77C1345.89 919.71 1342.68 923.19 1340 928.01C1337.33 932.83 1335.45 939.52 1333.58 945.68C1331.7 951.84 1330.37 959.07 1328.76 964.96C1327.15 970.85 1326.35 976.47 1323.94 981.02C1321.53 985.58 1318.05 989.06 1314.3 992.27C1310.55 995.48 1306.27 997.89 1301.45 1000.3C1296.63 1002.71 1290.74 1005.12 1285.39 1006.73C1280.03 1008.33 1274.14 1008.6 1269.32 1009.94C1264.5 1011.28 1260.75 1012.08 1256.47 1014.76C1252.19 1017.44 1246.83 1021.72 1243.62 1026C1240.41 1030.29 1239.33 1035.37 1237.19 1040.46C1235.05 1045.55 1232.91 1051.44 1230.77 1056.53C1228.63 1061.61 1225.81 1067.24 1224.34 1070.98C1222.87 1074.73 1221.13 1076.34 1221.93 1079.02C1222.73 1081.69 1225.28 1085.17 1229.16 1087.05C1233.04 1088.92 1239.07 1090.26 1245.22 1090.26C1251.38 1090.26 1259.41 1088.39 1266.11 1087.05C1272.8 1085.71 1278.96 1083.7 1285.39 1082.23C1291.81 1080.76 1298.5 1079.28 1304.66 1078.21C1310.82 1077.14 1317.51 1076.74 1322.33 1075.8C1327.15 1074.87 1329.56 1074.06 1333.58 1072.59C1337.59 1071.12 1344.29 1067.9 1346.43 1066.97M1356.07 998.69C1354.73 1000.3 1351.25 1005.92 1348.04 1008.33C1344.82 1010.74 1341.88 1011.81 1336.79 1013.15C1331.7 1014.49 1323.94 1015.7 1317.51 1016.37C1311.09 1017.03 1304.66 1017.44 1298.24 1017.17C1291.81 1016.9 1285.12 1015.56 1278.96 1014.76C1272.8 1013.96 1266.91 1014.49 1261.29 1012.35C1255.67 1010.21 1249.78 1006.06 1245.22 1001.91C1240.67 997.76 1236.52 992.27 1233.98 987.45C1231.44 982.63 1229.7 977.14 1229.96 972.99C1230.23 968.84 1232.24 964.56 1235.59 962.55C1238.93 960.54 1245.22 960.54 1250.04 960.94C1254.86 961.35 1260.49 962.68 1264.5 964.96C1268.52 967.24 1272 970.31 1274.14 974.6C1276.28 978.88 1276.55 985.04 1277.35 990.66C1278.16 996.29 1277.89 1002.98 1278.96 1008.33C1280.03 1013.69 1281.37 1017.97 1283.78 1022.79C1286.19 1027.61 1289.67 1033.23 1293.42 1037.25C1297.17 1041.27 1301.45 1044.21 1306.27 1046.89C1311.09 1049.56 1316.98 1052.51 1322.33 1053.31C1327.69 1054.12 1333.58 1053.31 1338.4 1051.71C1343.22 1050.1 1348.57 1046.89 1351.25 1043.67C1353.93 1040.46 1353.12 1035.91 1354.46 1032.43C1355.8 1028.95 1356.87 1025.2 1359.28 1022.79C1361.69 1020.38 1365.17 1018.91 1368.92 1017.97C1372.67 1017.03 1377.22 1017.97 1381.77 1017.17C1386.32 1016.37 1392.21 1015.43 1396.23 1013.15C1400.24 1010.88 1404.13 1007.26 1405.87 1003.51C1407.61 999.77 1407.21 993.88 1406.67 990.66C1406.14 987.45 1404.39 985.63 1402.65 984.24C1400.91 982.84 1399.17 981.77 1396.23 982.31C1393.28 982.84 1387.93 984.45 1384.98 987.45C1382.04 990.45 1381.24 996.02 1378.56 1000.3C1375.88 1004.59 1372.13 1009.4 1368.92 1013.15C1365.71 1016.9 1360.89 1021.18 1359.28 1022.79M1413.1 1088.65C1411.36 1087.58 1407.88 1085.44 1402.65 1082.23C1397.43 1079.02 1388.46 1073.66 1381.77 1069.38C1375.08 1065.09 1368.92 1060.54 1362.49 1056.53C1356.07 1052.51 1349.11 1048.76 1343.22 1045.28C1337.33 1041.8 1332.51 1038.59 1327.15 1035.64C1321.8 1032.7 1316.44 1030.29 1311.09 1027.61C1305.73 1024.93 1300.38 1021.85 1295.02 1019.58C1289.67 1017.3 1284.58 1015.03 1278.96 1013.96C1273.34 1012.88 1266.91 1011.68 1261.29 1013.15C1255.67 1014.63 1248.97 1019.04 1245.22 1022.79C1241.48 1026.54 1239.87 1030.82 1238.8 1035.64C1237.73 1040.46 1237.73 1046.62 1238.8 1051.71C1239.87 1056.79 1242.28 1061.88 1245.22 1066.16C1248.17 1070.45 1251.92 1075.13 1256.47 1077.41C1261.02 1079.69 1267.71 1080.62 1272.53 1079.82C1277.35 1079.02 1280.57 1075.4 1285.39 1072.59C1290.2 1069.78 1296.1 1065.63 1301.45 1062.95C1306.8 1060.27 1313.23 1057.6 1317.51 1056.53C1321.8 1055.46 1325.01 1055.19 1327.15 1056.53C1329.29 1057.86 1329.29 1061.88 1330.37 1064.56C1331.44 1067.24 1331.7 1070.45 1333.58 1072.59C1335.45 1074.73 1337.59 1076.34 1341.61 1077.41C1345.63 1078.48 1353.39 1079.82 1357.67 1079.02C1361.96 1078.21 1365.17 1075.27 1367.31 1072.59C1369.46 1069.91 1370.53 1066.43 1370.53 1062.95C1370.53 1059.47 1368.12 1055.72 1367.31 1051.71C1366.51 1047.69 1364.64 1042.07 1365.71 1038.86C1366.78 1035.64 1370.26 1033.63 1373.74 1032.43C1377.22 1031.22 1381.77 1030.82 1386.59 1031.63C1391.41 1032.43 1398.1 1034.71 1402.65 1037.25C1407.21 1039.79 1411.09 1043.14 1413.9 1046.89C1416.71 1050.64 1418.99 1054.92 1419.52 1059.74C1420.06 1064.56 1418.45 1071.79 1417.11 1075.8C1415.77 1079.82 1412.16 1081.69 1411.49 1083.84C1410.82 1085.98 1412.83 1087.85 1413.1 1088.65M1301.45 1017.17C1298.77 1017.57 1290.2 1018.11 1285.39 1019.58C1280.57 1021.05 1275.48 1023.86 1272.53 1026C1269.59 1028.15 1267.71 1031.09 1267.71 1032.43C1267.71 1033.77 1269.86 1033.77 1272.53 1034.04C1275.21 1034.3 1280.57 1035.11 1283.78 1034.04C1286.99 1032.97 1289.67 1030.56 1291.81 1027.61C1293.95 1024.67 1295.02 1020.65 1296.63 1016.37C1298.24 1012.08 1298.5 1006.46 1301.45 1001.91C1304.39 997.36 1308.95 993.61 1314.3 989.06C1319.66 984.5 1329.03 979.69 1333.58 974.6C1338.13 969.51 1340.27 963.89 1341.61 958.53C1342.95 953.18 1342.41 947.29 1341.61 942.47C1340.81 937.65 1339.47 933.37 1336.79 929.62C1334.11 925.87 1329.03 923.46 1325.55 919.98C1322.07 916.5 1319.39 911.95 1315.91 908.73C1312.43 905.52 1308.14 902.44 1304.66 900.7C1301.18 898.96 1297.7 898.03 1295.02 898.29C1292.35 898.56 1291.54 900.03 1288.6 902.31C1285.65 904.59 1281.9 909 1277.35 911.95C1272.8 914.89 1266.64 917.57 1261.29 919.98C1255.93 922.39 1250.31 924 1245.22 926.41C1240.14 928.82 1234.78 931.22 1230.77 934.44C1226.75 937.65 1223.27 941.13 1221.13 945.68C1218.99 950.23 1218.99 956.12 1217.92 961.75C1216.84 967.37 1215.77 973.8 1214.7 979.42C1213.63 985.04 1212.83 990.13 1211.49 995.48C1210.15 1000.84 1208.28 1006.46 1206.67 1011.55C1205.06 1016.63 1201.58 1022.79 1201.85 1026C1202.12 1029.22 1204.53 1030.42 1208.28 1030.82C1212.03 1031.22 1218.45 1028.68 1224.34 1028.41C1230.23 1028.15 1237.73 1028.55 1243.62 1029.22C1249.51 1029.89 1255.4 1030.82 1259.68 1032.43C1263.97 1034.04 1266.91 1036.71 1269.32 1038.86C1271.73 1041 1270.93 1043.67 1274.14 1045.28C1277.35 1046.89 1282.71 1047.82 1288.6 1048.49C1294.49 1049.16 1303.32 1048.49 1309.48 1049.3C1315.64 1050.1 1322.87 1052.64 1325.55 1053.31" fill="none" stroke="#2a2a2a" stroke-width="1.05" stroke-linejoin="round"/>
<path d="M1518.59 922.89 A130.7 129.4 0 0 1 1704.17 923.45" fill="none" stroke="#4848FF" stroke-width="1.3"/>
<path d="M1704.17 923.45 A130.7 129.4 0 0 1 1705.37 1103.93" fill="none" stroke="#44EE44" stroke-width="1.3"/>
<path d="M1705.37 1103.93 A130.7 129.4 0 0 1 1521.09 1108.12" fill="none" stroke="#EE3B45" stroke-width="1.3"/>
<path d="M1521.09 1108.12 A130.7 129.4 0 0 1 1518.59 922.89" fill="none" stroke="#FFF033" stroke-width="1.3"/>
<line x1="1518.59" y1="922.89" x2="1613.67" y2="1014.44" stroke="#FFF033" stroke-width="1.4" stroke-linecap="butt"/>
<line x1="1563.57" y1="965.26" x2="1614.17" y2="1013.94" stroke="#4848FF" stroke-width="1" stroke-linecap="butt"/>
<line x1="1704.17" y1="923.45" x2="1613.67" y2="1014.44" stroke="#44EE44" stroke-width="1.4" stroke-linecap="butt"/>
<line x1="1703.57" y1="923.05" x2="1673.31" y2="953.31" stroke="#4848FF" stroke-width="1" stroke-linecap="butt"/>
<line x1="1520.59" y1="1107.62" x2="1613.17" y2="1013.94" stroke="#FFF033" stroke-width="1" stroke-linecap="butt"/>
<line x1="1521.49" y1="1108.52" x2="1614.07" y2="1014.84" stroke="#EE3B45" stroke-width="1" stroke-linecap="butt"/>
<line x1="1705.87" y1="1103.43" x2="1614.17" y2="1013.94" stroke="#44EE44" stroke-width="1" stroke-linecap="butt"/>
<line x1="1704.97" y1="1104.33" x2="1613.27" y2="1014.84" stroke="#EE3B45" stroke-width="1" stroke-linecap="butt"/>
<circle cx="1601.14" cy="1077.09" r="10" fill="none" stroke="#9955FF" stroke-width="1"/>
<path d="M1543.31 1112.75C1540.71 1110.88 1532.46 1105.79 1527.72 1101.51C1522.99 1097.22 1518.89 1092.4 1514.87 1087.05C1510.86 1081.69 1507.11 1074.73 1503.63 1069.38C1500.15 1064.02 1495.86 1060.54 1493.99 1054.92C1492.12 1049.3 1492.79 1042.07 1492.38 1035.64C1491.98 1029.22 1492.79 1022.79 1491.58 1016.37C1490.38 1009.94 1485.02 1002.98 1485.15 997.09C1485.29 991.2 1489.57 986.91 1492.38 981.02C1495.19 975.13 1499.75 967.9 1502.02 961.75C1504.3 955.59 1502.83 948.36 1506.04 944.08C1509.25 939.79 1515.28 938.05 1521.3 936.04C1527.32 934.04 1534.95 933.63 1542.18 932.03C1549.41 930.42 1557.18 928.01 1564.67 926.41C1572.17 924.8 1578.6 923.19 1587.16 922.39C1595.73 921.59 1606.44 921.72 1616.08 921.59C1625.72 921.45 1636.43 921.45 1644.99 921.59C1653.56 921.72 1661.59 921.32 1667.48 922.39C1673.37 923.46 1677.12 924.67 1680.34 928.01C1683.55 931.36 1685.15 937.38 1686.76 942.47C1688.37 947.56 1689.17 952.64 1689.97 958.53C1690.78 964.42 1691.85 971.39 1691.58 977.81C1691.31 984.24 1689.71 990.66 1688.37 997.09C1687.03 1003.51 1683.82 1010.48 1683.55 1016.37C1683.28 1022.26 1685.82 1027.61 1686.76 1032.43C1687.7 1037.25 1689.17 1041 1689.17 1045.28C1689.17 1049.56 1688.77 1054.38 1686.76 1058.13C1684.75 1061.88 1680.87 1065.09 1677.12 1067.77C1673.37 1070.45 1667.75 1072.05 1664.27 1074.2C1660.79 1076.34 1657.85 1078.48 1656.24 1080.62C1654.63 1082.76 1652.49 1085.17 1654.63 1087.05C1656.77 1088.92 1664.27 1091.87 1669.09 1091.87C1673.91 1091.87 1679.53 1089.99 1683.55 1087.05C1687.56 1084.1 1691.45 1078.48 1693.19 1074.2C1694.93 1069.91 1695.33 1065.9 1693.99 1061.35C1692.65 1056.79 1688.23 1051.17 1685.15 1046.89C1682.08 1042.6 1679.53 1038.59 1675.52 1035.64C1671.5 1032.7 1666.68 1030.82 1661.06 1029.22C1655.44 1027.61 1647.67 1025.2 1641.78 1026C1635.89 1026.81 1630 1030.82 1625.72 1034.04C1621.43 1037.25 1618.22 1041.53 1616.08 1045.28C1613.94 1049.03 1612.33 1052.24 1612.87 1056.53C1613.4 1060.81 1617.55 1066.43 1619.29 1070.98C1621.03 1075.54 1623.04 1079.55 1623.31 1083.84C1623.57 1088.12 1622.64 1092.94 1620.9 1096.69C1619.16 1100.44 1613.67 1103.92 1612.87 1106.33C1612.06 1108.73 1613.4 1110.34 1616.08 1111.14C1618.76 1111.95 1625.45 1112.48 1628.93 1111.14C1632.41 1109.81 1635.22 1107.66 1636.96 1103.11C1638.7 1098.56 1639.37 1090.26 1639.37 1083.84C1639.37 1077.41 1637.36 1070.98 1636.96 1064.56C1636.56 1058.13 1635.62 1051.17 1636.96 1045.28C1638.3 1039.39 1641.51 1033.5 1644.99 1029.22C1648.47 1024.93 1653.29 1021.72 1657.85 1019.58C1662.4 1017.44 1668.55 1018.51 1672.3 1016.37C1676.05 1014.22 1679.26 1009.4 1680.34 1006.73C1681.41 1004.05 1681.41 1001.91 1678.73 1000.3C1676.05 998.69 1669.36 997.89 1664.27 997.09C1659.18 996.29 1652.49 994.68 1648.21 995.48C1643.92 996.29 1640.98 998.43 1638.57 1001.91C1636.16 1005.39 1635.09 1011.28 1633.75 1016.37C1632.41 1021.45 1630.8 1027.07 1630.54 1032.43C1630.27 1037.78 1630.8 1043.14 1632.14 1048.49C1633.48 1053.85 1637.23 1058.67 1638.57 1064.56C1639.91 1070.45 1639.64 1077.95 1640.17 1083.84C1640.71 1089.73 1640.44 1095.35 1641.78 1099.9C1643.12 1104.45 1646.06 1108.2 1648.21 1111.14C1650.35 1114.09 1653.03 1116.77 1654.63 1117.57C1656.24 1118.37 1656.37 1117.84 1657.85 1115.96C1659.32 1114.09 1662.53 1107.93 1663.47 1106.33M1668.29 964.96C1668.82 966.03 1671.1 967.64 1671.5 971.39C1671.9 975.13 1671.63 982.1 1670.7 987.45C1669.76 992.8 1666.95 998.16 1665.88 1003.51C1664.81 1008.87 1664.67 1014.22 1664.27 1019.58C1663.87 1024.93 1664 1030.82 1663.47 1035.64C1662.93 1040.46 1663.6 1045.28 1661.06 1048.49C1658.51 1051.71 1653.03 1052.51 1648.21 1054.92C1643.39 1057.33 1636.69 1061.35 1632.14 1062.95C1627.59 1064.56 1624.65 1065.09 1620.9 1064.56C1617.15 1064.02 1612.87 1062.95 1609.65 1059.74C1606.44 1056.53 1603.36 1050.37 1601.62 1045.28C1599.88 1040.19 1599.48 1034.57 1599.21 1029.22C1598.94 1023.86 1598.27 1017.7 1600.01 1013.15C1601.75 1008.6 1605.37 1005.12 1609.65 1001.91C1613.94 998.69 1620.36 996.29 1625.72 993.88C1631.07 991.47 1637.77 989.06 1641.78 987.45C1645.8 985.84 1646.6 984.24 1649.81 984.24C1653.03 984.24 1656.77 985.84 1661.06 987.45C1665.34 989.06 1671.23 991.2 1675.52 993.88C1679.8 996.55 1684.49 999.77 1686.76 1003.51C1689.04 1007.26 1689.97 1012.08 1689.17 1016.37C1688.37 1020.65 1684.75 1025.47 1681.94 1029.22C1679.13 1032.97 1675.78 1036.18 1672.3 1038.86C1668.82 1041.53 1662.93 1044.21 1661.06 1045.28M1582.34 1053.31C1584.22 1053.85 1589.84 1055.32 1593.59 1056.53C1597.34 1057.73 1601.89 1059.47 1604.83 1060.54C1607.78 1061.61 1611.26 1061.48 1611.26 1062.95C1611.26 1064.42 1607.78 1067.64 1604.83 1069.38C1601.89 1071.12 1597.6 1072.72 1593.59 1073.39C1589.57 1074.06 1583.95 1074.6 1580.74 1073.39C1577.52 1072.19 1575.11 1068.98 1574.31 1066.16C1573.51 1063.35 1574.58 1058.67 1575.92 1056.53C1577.26 1054.38 1581.27 1053.85 1582.34 1053.31M1622.5 1029.22C1622.77 1026.54 1623.57 1019.04 1624.11 1013.15C1624.65 1007.26 1625.45 1000.3 1625.72 993.88C1625.98 987.45 1626.79 980.49 1625.72 974.6C1624.65 968.71 1620.9 963.89 1619.29 958.53C1617.68 953.18 1617.15 947.02 1616.08 942.47C1615.01 937.92 1614.74 933.63 1612.87 931.22C1610.99 928.82 1607.78 928.01 1604.83 928.01C1601.89 928.01 1597.6 929.35 1595.19 931.22C1592.79 933.1 1590.64 936.58 1590.38 939.26C1590.11 941.93 1591.45 944.88 1593.59 947.29C1595.73 949.7 1599.48 952.38 1603.23 953.71C1606.98 955.05 1611.79 955.46 1616.08 955.32C1620.36 955.19 1624.65 952.64 1628.93 952.91C1633.21 953.18 1638.3 954.38 1641.78 956.93C1645.26 959.47 1647.94 963.09 1649.81 968.17C1651.69 973.26 1653.29 982.36 1653.03 987.45C1652.76 992.54 1651.69 995.48 1648.21 998.69C1644.73 1001.91 1637.77 1004.32 1632.14 1006.73C1626.52 1009.14 1620.09 1011.28 1614.47 1013.15C1608.85 1015.03 1603.49 1016.1 1598.41 1017.97C1593.32 1019.85 1588.23 1021.99 1583.95 1024.4C1579.67 1026.81 1575.65 1028.95 1572.7 1032.43C1569.76 1035.91 1567.75 1040.73 1566.28 1045.28C1564.81 1049.83 1563.87 1055.19 1563.87 1059.74C1563.87 1064.29 1564.27 1069.11 1566.28 1072.59C1568.29 1076.07 1571.9 1079.42 1575.92 1080.62C1579.93 1081.83 1585.82 1081.16 1590.38 1079.82C1594.93 1078.48 1599.21 1075.67 1603.23 1072.59C1607.24 1069.51 1611.26 1065.36 1614.47 1061.35C1617.68 1057.33 1621.17 1050.64 1622.5 1048.49M1543.31 1112.75C1546.33 1111.68 1555.22 1108.47 1561.46 1106.33C1567.7 1104.18 1575.38 1101.77 1580.74 1099.9C1586.09 1098.03 1590.38 1096.95 1593.59 1095.08C1596.8 1093.21 1598.94 1089.73 1600.01 1088.65M1622.5 1011.55C1621.97 1009.94 1621.17 1005.12 1619.29 1001.91C1617.42 998.69 1614.74 995.21 1611.26 992.27C1607.78 989.32 1602.96 986.38 1598.41 984.24C1593.86 982.1 1589.04 980.49 1583.95 979.42C1578.86 978.35 1573.78 977.95 1567.89 977.81C1562 977.68 1553.96 978.08 1548.61 978.61C1543.25 979.15 1538.84 979.55 1535.76 981.02C1532.68 982.5 1530.67 985.04 1530.13 987.45C1529.6 989.86 1530.27 992.8 1532.54 995.48C1534.82 998.16 1539.51 1001.1 1543.79 1003.51C1548.07 1005.92 1553.43 1008.47 1558.25 1009.94C1563.07 1011.41 1567.89 1012.62 1572.7 1012.35C1577.52 1012.08 1582.08 1010.07 1587.16 1008.33C1592.25 1006.59 1597.87 1004.05 1603.23 1001.91C1608.58 999.77 1614.47 997.22 1619.29 995.48C1624.11 993.74 1630 992.14 1632.14 991.47M1626.52 961.75C1626.39 959.07 1625.05 949.97 1625.72 945.68C1626.39 941.4 1627.86 938.59 1630.54 936.04C1633.21 933.5 1638.03 931.09 1641.78 930.42C1645.53 929.75 1649.55 930.02 1653.03 932.03C1656.51 934.04 1659.99 938.05 1662.66 942.47C1665.34 946.89 1667.62 952.64 1669.09 958.53C1670.56 964.42 1671.5 971.39 1671.5 977.81C1671.5 984.24 1670.03 991.2 1669.09 997.09C1668.15 1002.98 1666.68 1006.73 1665.88 1013.15C1665.07 1019.58 1664.81 1029.22 1664.27 1035.64C1663.74 1042.07 1664 1046.35 1662.66 1051.71C1661.33 1057.06 1657.58 1062.68 1656.24 1067.77C1654.9 1072.86 1654.9 1079.82 1654.63 1082.23M1612.87 1075.8C1613.4 1078.21 1613.94 1087.05 1616.08 1090.26C1618.22 1093.47 1622.5 1095.08 1625.72 1095.08C1628.93 1095.08 1633.21 1093.21 1635.36 1090.26C1637.5 1087.32 1638.03 1079.55 1638.57 1077.41" fill="none" stroke="#2a2a2a" stroke-width="1.05" stroke-linejoin="round"/>
<text x="757.4" y="1195.4" font-size="29.8" text-anchor="middle" font-weight="bold" fill="#000" stroke="#000" stroke-width="0.35" transform="translate(757.4 1195.4) scale(1 1.04) translate(-757.4 -1195.4)">Con</text>
<text x="1048.3" y="1199" font-size="29.8" text-anchor="middle" font-weight="bold" fill="#000" stroke="#000" stroke-width="0.35" transform="translate(1048.3 1199) scale(1 1.04) translate(-1048.3 -1199)">H14d</text>
<text x="1342.7" y="1199" font-size="29.8" text-anchor="middle" font-weight="bold" fill="#000" stroke="#000" stroke-width="0.35" transform="translate(1342.7 1199) scale(1 1.04) translate(-1342.7 -1199)">H14d-R14d</text>
<text x="1608.9" y="1199" font-size="29.8" text-anchor="middle" font-weight="bold" fill="#000" stroke="#000" stroke-width="0.35" transform="translate(1608.9 1199) scale(1 1.04) translate(-1608.9 -1199)">H14d-R28d</text>
<text x="-2.3" y="1330.5" font-size="48.5" text-anchor="start" font-weight="bold" fill="#1a1a1a" stroke="#1a1a1a" stroke-width="0.35" transform="translate(-2.3 1330.5) scale(1 1.04) translate(2.3 -1330.5)">G</text>
<defs><filter id="bl2" filterUnits="userSpaceOnUse" x="60" y="1400" width="300" height="280"><feGaussianBlur stdDeviation="2.2"/></filter><filter id="bl3" filterUnits="userSpaceOnUse" x="60" y="1400" width="300" height="280"><feGaussianBlur stdDeviation="3.5"/></filter><filter id="bl25" filterUnits="userSpaceOnUse" x="60" y="1400" width="300" height="280"><feGaussianBlur stdDeviation="2.8"/></filter><filter id="bl1" filterUnits="userSpaceOnUse" x="60" y="1400" width="300" height="280"><feGaussianBlur stdDeviation="1.5"/></filter><linearGradient id="bg1" x1="0" y1="0" x2="1" y2="1"><stop offset="0" stop-color="#b4b4b4"/><stop offset="1" stop-color="#a0a0a0"/></linearGradient><linearGradient id="bg2" x1="0" y1="0" x2="1" y2="0.3"><stop offset="0" stop-color="#bdbdbd"/><stop offset="0.5" stop-color="#c6c6c6"/><stop offset="1" stop-color="#cbcbcb"/></linearGradient><linearGradient id="bg3" x1="0" y1="0" x2="0" y2="1"><stop offset="0" stop-color="#aaaaaa"/><stop offset="0.6" stop-color="#b2b2b2"/><stop offset="1" stop-color="#9c9c9c"/></linearGradient></defs>
<clipPath id="clip1"><rect x="75.1" y="1417.7" width="272.7" height="77.5"/></clipPath>
<rect x="75.1" y="1417.7" width="272.7" height="77.5" fill="url(#bg1)"/>
<g clip-path="url(#clip1)">
<path d="M80 1477 L140 1479 L200 1477 L270 1479 L340 1476" fill="none" stroke="#8c8c8c" stroke-opacity="0.6" stroke-width="10" stroke-linecap="round" stroke-linejoin="round" filter="url(#bl3)"/>
<path d="M88 1459 L132 1458" fill="none" stroke="#000" stroke-opacity="0.35" stroke-width="10" stroke-linecap="round" stroke-linejoin="round" filter="url(#bl3)"/>
<path d="M152 1452 L170 1449 L192 1447" fill="none" stroke="#000" stroke-opacity="0.6" stroke-width="13" stroke-linecap="round" stroke-linejoin="round" filter="url(#bl3)"/>
<path d="M218 1449 L235 1447 L254 1449" fill="none" stroke="#000" stroke-opacity="0.6" stroke-width="13" stroke-linecap="round" stroke-linejoin="round" filter="url(#bl3)"/>
<path d="M282 1452 L300 1452 L318 1455" fill="none" stroke="#000" stroke-opacity="0.5" stroke-width="11" stroke-linecap="round" stroke-linejoin="round" filter="url(#bl3)"/>
<path d="M88 1463.5 L100 1462 L118 1462 L133 1463" fill="none" stroke="#000" stroke-opacity="1" stroke-width="9" stroke-linecap="round" stroke-linejoin="round" filter="url(#bl2)"/>
<path d="M146 1463.5 L158 1460 L175 1459 L190 1457 L201 1460.5" fill="none" stroke="#000" stroke-opacity="1" stroke-width="12.5" stroke-linecap="round" stroke-linejoin="round" filter="url(#bl2)"/>
<path d="M211 1462.5 L222 1456 L238 1457.5 L252 1457 L264 1462.5" fill="none" stroke="#000" stroke-opacity="1" stroke-width="12.5" stroke-linecap="round" stroke-linejoin="round" filter="url(#bl2)"/>
<path d="M277 1459.5 L295 1459.5 L315 1461.5 L330 1466.5 L339 1470" fill="none" stroke="#000" stroke-opacity="1" stroke-width="11.5" stroke-linecap="round" stroke-linejoin="round" filter="url(#bl2)"/>
<path d="M72 1464 L80 1464" fill="none" stroke="#000" stroke-opacity="0.7" stroke-width="6" stroke-linecap="round" stroke-linejoin="round" filter="url(#bl2)"/>
</g>
<rect x="75.9" y="1418.5" width="271.1" height="75.9" fill="none" stroke="#000" stroke-width="1.6"/>
<clipPath id="clip2"><rect x="76.4" y="1503.3" width="271" height="76.2"/></clipPath>
<rect x="76.4" y="1503.3" width="271" height="76.2" fill="url(#bg2)"/>
<g clip-path="url(#clip2)">
<path d="M85 1562 L150 1562 L220 1560 L300 1568" fill="none" stroke="#b0b0b0" stroke-opacity="0.8" stroke-width="14" stroke-linecap="round" stroke-linejoin="round" filter="url(#bl3)"/>
<path d="M92 1540 L126 1540" fill="none" stroke="#333" stroke-opacity="0.4" stroke-width="11" stroke-linecap="round" stroke-linejoin="round" filter="url(#bl3)"/>
<path d="M150 1537 L190 1534" fill="none" stroke="#333" stroke-opacity="0.5" stroke-width="12" stroke-linecap="round" stroke-linejoin="round" filter="url(#bl3)"/>
<path d="M215 1534 L250 1536" fill="none" stroke="#333" stroke-opacity="0.5" stroke-width="12" stroke-linecap="round" stroke-linejoin="round" filter="url(#bl3)"/>
<path d="M276 1538 L305 1541" fill="none" stroke="#333" stroke-opacity="0.4" stroke-width="11" stroke-linecap="round" stroke-linejoin="round" filter="url(#bl3)"/>
<path d="M90 1546.5 L105 1546 L127 1546" fill="none" stroke="#000" stroke-opacity="0.95" stroke-width="11.5" stroke-linecap="round" stroke-linejoin="round" filter="url(#bl25)"/>
<path d="M147 1545.5 L165 1544 L184 1542.5 L193 1544.5" fill="none" stroke="#000" stroke-opacity="0.95" stroke-width="12" stroke-linecap="round" stroke-linejoin="round" filter="url(#bl25)"/>
<path d="M211 1544.5 L225 1541.5 L243 1543 L255 1547" fill="none" stroke="#000" stroke-opacity="0.95" stroke-width="12" stroke-linecap="round" stroke-linejoin="round" filter="url(#bl25)"/>
<path d="M273 1545 L290 1547 L308 1551 L321 1556" fill="none" stroke="#000" stroke-opacity="1" stroke-width="13" stroke-linecap="round" stroke-linejoin="round" filter="url(#bl25)"/>
</g>
<rect x="76.95" y="1503.85" width="269.9" height="75.1" fill="none" stroke="#000" stroke-width="1.1"/>
<clipPath id="clip3"><rect x="74.3" y="1588.1" width="272.6" height="76.1"/></clipPath>
<rect x="74.3" y="1588.1" width="272.6" height="76.1" fill="url(#bg3)"/>
<g clip-path="url(#clip3)">
<path d="M78 1653 L110 1656 L140 1654" fill="none" stroke="#808080" stroke-opacity="0.6" stroke-width="9" stroke-linecap="round" stroke-linejoin="round" filter="url(#bl3)"/>
<path d="M140 1651 L170 1655 L190 1649" fill="none" stroke="#6a6a6a" stroke-opacity="0.7" stroke-width="10" stroke-linecap="round" stroke-linejoin="round" filter="url(#bl3)"/>
<path d="M200 1645 L222 1649" fill="none" stroke="#666" stroke-opacity="0.6" stroke-width="7" stroke-linecap="round" stroke-linejoin="round" filter="url(#bl2)"/>
<path d="M270 1647 L290 1653" fill="none" stroke="#707070" stroke-opacity="0.65" stroke-width="9" stroke-linecap="round" stroke-linejoin="round" filter="url(#bl3)"/>
<path d="M230 1657 L340 1657" fill="none" stroke="#8a8a8a" stroke-opacity="0.6" stroke-width="8" stroke-linecap="round" stroke-linejoin="round" filter="url(#bl3)"/>
<path d="M88 1625 L100 1626 L118 1628.5 L133 1629.5" fill="none" stroke="#000" stroke-opacity="1" stroke-width="8.8" stroke-linecap="round" stroke-linejoin="round" filter="url(#bl1)"/>
<path d="M153 1630.5 L170 1631.5 L190 1630.5 L202 1630.5" fill="none" stroke="#000" stroke-opacity="1" stroke-width="8.8" stroke-linecap="round" stroke-linejoin="round" filter="url(#bl1)"/>
<path d="M221 1629.5 L240 1628.5 L265 1629.5" fill="none" stroke="#000" stroke-opacity="1" stroke-width="8.8" stroke-linecap="round" stroke-linejoin="round" filter="url(#bl1)"/>
<path d="M284 1628.5 L300 1629 L320 1629.5 L335 1628.5" fill="none" stroke="#000" stroke-opacity="1" stroke-width="9.4" stroke-linecap="round" stroke-linejoin="round" filter="url(#bl1)"/>
</g>
<rect x="75.2" y="1589" width="270.8" height="74.3" fill="none" stroke="#000" stroke-width="1.8"/>
<text x="367.5" y="1473.1" font-size="24" text-anchor="start" font-weight="bold" fill="#000" stroke="#000" stroke-width="0.35">p-α-syn 19 kDa</text>
<text x="367.5" y="1548.8" font-size="24" text-anchor="start" font-weight="bold" fill="#000" stroke="#000" stroke-width="0.35">α-syn 19 kDa</text>
<text x="362.5" y="1635.6" font-size="24" text-anchor="start" font-weight="bold" fill="#000" stroke="#000" stroke-width="0.35">β-actin 43 kDa</text>
<text x="116" y="1404" font-size="24" text-anchor="start" font-weight="bold" fill="#000" stroke="#000" stroke-width="0.35" transform="rotate(-50 116 1404) translate(116 1404) scale(1 1.04) translate(-116 -1404)">Con</text>
<text x="183" y="1402" font-size="24" text-anchor="start" font-weight="bold" fill="#000" stroke="#000" stroke-width="0.35" transform="rotate(-50 183 1402) translate(183 1402) scale(1 1.04) translate(-183 -1402)">H14d</text>
<text x="250" y="1407" font-size="24" text-anchor="start" font-weight="bold" fill="#000" stroke="#000" stroke-width="0.35" transform="rotate(-50 250 1407) translate(250 1407) scale(1 1.04) translate(-250 -1407)">H14d-R2W</text>
<text x="328" y="1407" font-size="24" text-anchor="start" font-weight="bold" fill="#000" stroke="#000" stroke-width="0.35" transform="rotate(-50 328 1407) translate(328 1407) scale(1 1.04) translate(-328 -1407)">H14d-R4W</text>
<text x="604.7" y="1330.6" font-size="48.5" text-anchor="start" font-weight="bold" fill="#1a1a1a" stroke="#1a1a1a" stroke-width="0.35" transform="translate(604.7 1330.6) scale(1 1.04) translate(-604.7 -1330.6)">H</text>
<rect x="743" y="1590.6" width="62.4" height="51.1" fill="#E6E6E6"/>
<path d="M743 1641.7 V1590.6 H805.4 V1641.7" fill="none" stroke="#000" stroke-width="2.2" stroke-linejoin="miter"/>
<rect x="840.7" y="1506.4" width="62.3" height="135.3" fill="#E6E6E6"/>
<path d="M840.7 1641.7 V1506.4 H903 V1641.7" fill="none" stroke="#000" stroke-width="2.2" stroke-linejoin="miter"/>
<rect x="938.3" y="1514.1" width="62.4" height="127.6" fill="#E6E6E6"/>
<path d="M938.3 1641.7 V1514.1 H1000.7 V1641.7" fill="none" stroke="#000" stroke-width="2.2" stroke-linejoin="miter"/>
<rect x="1035.8" y="1500.4" width="62.5" height="141.3" fill="#E6E6E6"/>
<path d="M1035.8 1641.7 V1500.4 H1098.3 V1641.7" fill="none" stroke="#000" stroke-width="2.2" stroke-linejoin="miter"/>
<line x1="724.8" y1="1380" x2="724.8" y2="1642.5" stroke="#000" stroke-width="1.7" stroke-linecap="butt"/>
<line x1="724" y1="1641.7" x2="1115.8" y2="1641.7" stroke="#000" stroke-width="1.7" stroke-linecap="butt"/>
<line x1="721.4" y1="1641.7" x2="724.8" y2="1641.7" stroke="#000" stroke-width="1.7" stroke-linecap="butt"/>
<text x="717.5" y="1651.01" font-size="26" text-anchor="end" font-weight="bold" fill="#000" stroke="#000" stroke-width="0.35" transform="translate(717.5 1651.01) scale(1 1.04) translate(-717.5 -1651.01)">0.8</text>
<line x1="721.4" y1="1589.52" x2="724.8" y2="1589.52" stroke="#000" stroke-width="1.7" stroke-linecap="butt"/>
<text x="717.5" y="1598.83" font-size="26" text-anchor="end" font-weight="bold" fill="#000" stroke="#000" stroke-width="0.35" transform="translate(717.5 1598.83) scale(1 1.04) translate(-717.5 -1598.83)">1.0</text>
<line x1="721.4" y1="1537.34" x2="724.8" y2="1537.34" stroke="#000" stroke-width="1.7" stroke-linecap="butt"/>
<text x="717.5" y="1546.65" font-size="26" text-anchor="end" font-weight="bold" fill="#000" stroke="#000" stroke-width="0.35" transform="translate(717.5 1546.65) scale(1 1.04) translate(-717.5 -1546.65)">1.2</text>
<line x1="721.4" y1="1485.16" x2="724.8" y2="1485.16" stroke="#000" stroke-width="1.7" stroke-linecap="butt"/>
<text x="717.5" y="1494.47" font-size="26" text-anchor="end" font-weight="bold" fill="#000" stroke="#000" stroke-width="0.35" transform="translate(717.5 1494.47) scale(1 1.04) translate(-717.5 -1494.47)">1.4</text>
<line x1="721.4" y1="1432.98" x2="724.8" y2="1432.98" stroke="#000" stroke-width="1.7" stroke-linecap="butt"/>
<text x="717.5" y="1442.29" font-size="26" text-anchor="end" font-weight="bold" fill="#000" stroke="#000" stroke-width="0.35" transform="translate(717.5 1442.29) scale(1 1.04) translate(-717.5 -1442.29)">1.6</text>
<line x1="721.4" y1="1380.8" x2="724.8" y2="1380.8" stroke="#000" stroke-width="1.7" stroke-linecap="butt"/>
<text x="717.5" y="1390.11" font-size="26" text-anchor="end" font-weight="bold" fill="#000" stroke="#000" stroke-width="0.35" transform="translate(717.5 1390.11) scale(1 1.04) translate(-717.5 -1390.11)">1.8</text>
<line x1="774.2" y1="1641.7" x2="774.2" y2="1644.9" stroke="#000" stroke-width="1.5" stroke-linecap="butt"/>
<line x1="871.9" y1="1641.7" x2="871.9" y2="1644.9" stroke="#000" stroke-width="1.5" stroke-linecap="butt"/>
<line x1="969.5" y1="1641.7" x2="969.5" y2="1644.9" stroke="#000" stroke-width="1.5" stroke-linecap="butt"/>
<line x1="1067" y1="1641.7" x2="1067" y2="1644.9" stroke="#000" stroke-width="1.5" stroke-linecap="butt"/>
<circle cx="774" cy="1567.9" r="4.8" fill="#66CCF7" fill-opacity="1.0" stroke="#1E80F5" stroke-width="2.5"/>
<circle cx="774" cy="1591.8" r="4.8" fill="#66CCF7" fill-opacity="1.0" stroke="#1E80F5" stroke-width="2.5"/>
<circle cx="774" cy="1609.8" r="4.8" fill="#66CCF7" fill-opacity="1.0" stroke="#1E80F5" stroke-width="2.5"/>
<line x1="757" y1="1577.5" x2="791" y2="1577.5" stroke="#1E80F5" stroke-width="2.4" stroke-linecap="butt"/>
<line x1="757" y1="1602.1" x2="791" y2="1602.1" stroke="#1E80F5" stroke-width="2.4" stroke-linecap="butt"/>
<line x1="774" y1="1577.5" x2="774" y2="1602.1" stroke="#1E80F5" stroke-width="2.4" stroke-linecap="butt"/>
<circle cx="871.9" cy="1472.4" r="4.8" fill="#E8202A" fill-opacity="1.0" stroke="#7E0A14" stroke-width="2.5"/>
<circle cx="871.9" cy="1492.3" r="4.8" fill="#E8202A" fill-opacity="1.0" stroke="#7E0A14" stroke-width="2.5"/>
<circle cx="871.9" cy="1552.9" r="4.8" fill="#E8202A" fill-opacity="1.0" stroke="#7E0A14" stroke-width="2.5"/>
<line x1="854.9" y1="1481.3" x2="888.9" y2="1481.3" stroke="#860D16" stroke-width="2.4" stroke-linecap="butt"/>
<line x1="854.9" y1="1529.6" x2="888.9" y2="1529.6" stroke="#860D16" stroke-width="2.4" stroke-linecap="butt"/>
<line x1="871.9" y1="1481.3" x2="871.9" y2="1529.6" stroke="#860D16" stroke-width="2.4" stroke-linecap="butt"/>
<circle cx="960" cy="1509" r="4.8" fill="#DB8FF8" fill-opacity="0.7" stroke="#CC66FF" stroke-width="2.5"/>
<circle cx="978.7" cy="1511.3" r="4.8" fill="#DB8FF8" fill-opacity="0.7" stroke="#CC66FF" stroke-width="2.5"/>
<circle cx="960" cy="1519.6" r="4.8" fill="#DB8FF8" fill-opacity="0.7" stroke="#CC66FF" stroke-width="2.5"/>
<line x1="952.7" y1="1509.6" x2="986.7" y2="1509.6" stroke="#CC66FF" stroke-width="2.4" stroke-linecap="butt"/>
<line x1="952.7" y1="1517" x2="986.7" y2="1517" stroke="#CC66FF" stroke-width="2.4" stroke-linecap="butt"/>
<line x1="969.7" y1="1509.6" x2="969.7" y2="1517" stroke="#CC66FF" stroke-width="2.4" stroke-linecap="butt"/>
<circle cx="1066.9" cy="1413.8" r="4.8" fill="#C55BF5" fill-opacity="1.0" stroke="#7A24F0" stroke-width="2.5"/>
<circle cx="1066.9" cy="1530.6" r="4.8" fill="#C55BF5" fill-opacity="1.0" stroke="#7A24F0" stroke-width="2.5"/>
<circle cx="1066.9" cy="1554.9" r="4.8" fill="#C55BF5" fill-opacity="1.0" stroke="#7A24F0" stroke-width="2.5"/>
<line x1="1049.9" y1="1456.1" x2="1083.9" y2="1456.1" stroke="#7B2FF5" stroke-width="2.4" stroke-linecap="butt"/>
<line x1="1049.9" y1="1543.6" x2="1083.9" y2="1543.6" stroke="#7B2FF5" stroke-width="2.4" stroke-linecap="butt"/>
<line x1="1066.9" y1="1456.1" x2="1066.9" y2="1543.6" stroke="#7B2FF5" stroke-width="2.4" stroke-linecap="butt"/>
<text x="638.7" y="1503.3" font-size="25.6" text-anchor="middle" font-weight="bold" fill="#000" stroke="#000" stroke-width="0.35" transform="rotate(-90 638.7 1503.3) translate(638.7 1503.3) scale(1 1.04) translate(-638.7 -1503.3)">Level of α-syn</text>
<text x="669.8" y="1503.5" font-size="25.7" text-anchor="middle" font-weight="bold" fill="#000" stroke="#000" stroke-width="0.35" transform="rotate(-90 669.8 1503.5) translate(669.8 1503.5) scale(1 1.04) translate(-669.8 -1503.5)">(ratio to Con)</text>
<text x="780.7" y="1666.7" font-size="26.4" text-anchor="end" font-weight="bold" fill="#000" stroke="#000" stroke-width="0.35" transform="rotate(-45 780.7 1666.7) translate(780.7 1666.7) scale(1 1.04) translate(-780.7 -1666.7)">Con</text>
<text x="878.4" y="1666.7" font-size="26.4" text-anchor="end" font-weight="bold" fill="#000" stroke="#000" stroke-width="0.35" transform="rotate(-45 878.4 1666.7) translate(878.4 1666.7) scale(1 1.04) translate(-878.4 -1666.7)">H14d</text>
<text x="976" y="1666.7" font-size="26.4" text-anchor="end" font-weight="bold" fill="#000" stroke="#000" stroke-width="0.35" transform="rotate(-45 976 1666.7) translate(976 1666.7) scale(1 1.04) translate(-976 -1666.7)">H14d+R2W</text>
<text x="1073.5" y="1666.7" font-size="26.4" text-anchor="end" font-weight="bold" fill="#000" stroke="#000" stroke-width="0.35" transform="rotate(-45 1073.5 1666.7) translate(1073.5 1666.7) scale(1 1.04) translate(-1073.5 -1666.7)">H14d+R4W</text>
<text x="1190.9" y="1330.5" font-size="48.5" text-anchor="start" font-weight="bold" fill="#1a1a1a" stroke="#1a1a1a" stroke-width="0.35" transform="translate(1190.9 1330.5) scale(1 1.04) translate(-1190.9 -1330.5)">I</text>
<rect x="1336.3" y="1540.7" width="61.4" height="101.4" fill="#E6E6E6"/>
<path d="M1336.3 1642.1 V1540.7 H1397.7 V1642.1" fill="none" stroke="#000" stroke-width="2.2" stroke-linejoin="miter"/>
<rect x="1432.5" y="1452.2" width="61" height="189.9" fill="#E6E6E6"/>
<path d="M1432.5 1642.1 V1452.2 H1493.5 V1642.1" fill="none" stroke="#000" stroke-width="2.2" stroke-linejoin="miter"/>
<rect x="1528.3" y="1449.9" width="61.4" height="192.2" fill="#E6E6E6"/>
<path d="M1528.3 1642.1 V1449.9 H1589.7 V1642.1" fill="none" stroke="#000" stroke-width="2.2" stroke-linejoin="miter"/>
<rect x="1624.8" y="1478.5" width="61.1" height="163.6" fill="#E6E6E6"/>
<path d="M1624.8 1642.1 V1478.5 H1685.9 V1642.1" fill="none" stroke="#000" stroke-width="2.2" stroke-linejoin="miter"/>
<line x1="1318.1" y1="1385" x2="1318.1" y2="1642.9" stroke="#000" stroke-width="1.7" stroke-linecap="butt"/>
<line x1="1317.3" y1="1642.1" x2="1702.8" y2="1642.1" stroke="#000" stroke-width="1.7" stroke-linecap="butt"/>
<line x1="1314.7" y1="1642.1" x2="1318.1" y2="1642.1" stroke="#000" stroke-width="1.7" stroke-linecap="butt"/>
<text x="1310.8" y="1651.41" font-size="26" text-anchor="end" font-weight="bold" fill="#000" stroke="#000" stroke-width="0.35" transform="translate(1310.8 1651.41) scale(1 1.04) translate(-1310.8 -1651.41)">0.0</text>
<line x1="1314.7" y1="1590.84" x2="1318.1" y2="1590.84" stroke="#000" stroke-width="1.7" stroke-linecap="butt"/>
<text x="1310.8" y="1600.15" font-size="26" text-anchor="end" font-weight="bold" fill="#000" stroke="#000" stroke-width="0.35" transform="translate(1310.8 1600.15) scale(1 1.04) translate(-1310.8 -1600.15)">0.5</text>
<line x1="1314.7" y1="1539.58" x2="1318.1" y2="1539.58" stroke="#000" stroke-width="1.7" stroke-linecap="butt"/>
<text x="1310.8" y="1548.89" font-size="26" text-anchor="end" font-weight="bold" fill="#000" stroke="#000" stroke-width="0.35" transform="translate(1310.8 1548.89) scale(1 1.04) translate(-1310.8 -1548.89)">1.0</text>
<line x1="1314.7" y1="1488.32" x2="1318.1" y2="1488.32" stroke="#000" stroke-width="1.7" stroke-linecap="butt"/>
<text x="1310.8" y="1497.63" font-size="26" text-anchor="end" font-weight="bold" fill="#000" stroke="#000" stroke-width="0.35" transform="translate(1310.8 1497.63) scale(1 1.04) translate(-1310.8 -1497.63)">1.5</text>
<line x1="1314.7" y1="1437.06" x2="1318.1" y2="1437.06" stroke="#000" stroke-width="1.7" stroke-linecap="butt"/>
<text x="1310.8" y="1446.37" font-size="26" text-anchor="end" font-weight="bold" fill="#000" stroke="#000" stroke-width="0.35" transform="translate(1310.8 1446.37) scale(1 1.04) translate(-1310.8 -1446.37)">2.0</text>
<line x1="1314.7" y1="1385.8" x2="1318.1" y2="1385.8" stroke="#000" stroke-width="1.7" stroke-linecap="butt"/>
<text x="1310.8" y="1395.11" font-size="26" text-anchor="end" font-weight="bold" fill="#000" stroke="#000" stroke-width="0.35" transform="translate(1310.8 1395.11) scale(1 1.04) translate(-1310.8 -1395.11)">2.5</text>
<line x1="1367" y1="1642.1" x2="1367" y2="1645.3" stroke="#000" stroke-width="1.5" stroke-linecap="butt"/>
<line x1="1463" y1="1642.1" x2="1463" y2="1645.3" stroke="#000" stroke-width="1.5" stroke-linecap="butt"/>
<line x1="1559" y1="1642.1" x2="1559" y2="1645.3" stroke="#000" stroke-width="1.5" stroke-linecap="butt"/>
<line x1="1655.3" y1="1642.1" x2="1655.3" y2="1645.3" stroke="#000" stroke-width="1.5" stroke-linecap="butt"/>
<circle cx="1366.7" cy="1527.6" r="4.8" fill="#66CCF7" fill-opacity="1.0" stroke="#1E80F5" stroke-width="2.5"/>
<circle cx="1357.7" cy="1548.9" r="4.8" fill="#66CCF7" fill-opacity="1.0" stroke="#1E80F5" stroke-width="2.5"/>
<circle cx="1376" cy="1542.9" r="4.8" fill="#66CCF7" fill-opacity="1.0" stroke="#1E80F5" stroke-width="2.5"/>
<line x1="1349.8" y1="1533.6" x2="1383.8" y2="1533.6" stroke="#1E80F5" stroke-width="2.4" stroke-linecap="butt"/>
<line x1="1349.8" y1="1546.6" x2="1383.8" y2="1546.6" stroke="#1E80F5" stroke-width="2.4" stroke-linecap="butt"/>
<line x1="1366.8" y1="1533.6" x2="1366.8" y2="1546.6" stroke="#1E80F5" stroke-width="2.4" stroke-linecap="butt"/>
<circle cx="1453.5" cy="1443.1" r="4.8" fill="#E8202A" fill-opacity="1.0" stroke="#7E0A14" stroke-width="2.5"/>
<circle cx="1472.5" cy="1452.1" r="4.8" fill="#E8202A" fill-opacity="1.0" stroke="#7E0A14" stroke-width="2.5"/>
<circle cx="1453.5" cy="1460" r="4.8" fill="#E8202A" fill-opacity="1.0" stroke="#7E0A14" stroke-width="2.5"/>
<line x1="1446" y1="1446.1" x2="1480" y2="1446.1" stroke="#860D16" stroke-width="2.4" stroke-linecap="butt"/>
<line x1="1446" y1="1456.4" x2="1480" y2="1456.4" stroke="#860D16" stroke-width="2.4" stroke-linecap="butt"/>
<line x1="1463" y1="1446.1" x2="1463" y2="1456.4" stroke="#860D16" stroke-width="2.4" stroke-linecap="butt"/>
<circle cx="1559" cy="1417.8" r="4.8" fill="#DB8FF8" fill-opacity="0.7" stroke="#CC66FF" stroke-width="2.5"/>
<circle cx="1559" cy="1458.7" r="4.8" fill="#DB8FF8" fill-opacity="0.7" stroke="#CC66FF" stroke-width="2.5"/>
<circle cx="1559" cy="1469.7" r="4.8" fill="#DB8FF8" fill-opacity="0.7" stroke="#CC66FF" stroke-width="2.5"/>
<line x1="1542" y1="1433.1" x2="1576" y2="1433.1" stroke="#CC66FF" stroke-width="2.4" stroke-linecap="butt"/>
<line x1="1542" y1="1464.4" x2="1576" y2="1464.4" stroke="#CC66FF" stroke-width="2.4" stroke-linecap="butt"/>
<line x1="1559" y1="1433.1" x2="1559" y2="1464.4" stroke="#CC66FF" stroke-width="2.4" stroke-linecap="butt"/>
<circle cx="1655.2" cy="1462.4" r="4.8" fill="#C55BF5" fill-opacity="1.0" stroke="#7A24F0" stroke-width="2.5"/>
<circle cx="1645.9" cy="1487.7" r="4.8" fill="#C55BF5" fill-opacity="1.0" stroke="#7A24F0" stroke-width="2.5"/>
<circle cx="1664.5" cy="1482.7" r="4.8" fill="#C55BF5" fill-opacity="1.0" stroke="#7A24F0" stroke-width="2.5"/>
<line x1="1638.2" y1="1469.7" x2="1672.2" y2="1469.7" stroke="#7B2FF5" stroke-width="2.4" stroke-linecap="butt"/>
<line x1="1638.2" y1="1485.3" x2="1672.2" y2="1485.3" stroke="#7B2FF5" stroke-width="2.4" stroke-linecap="butt"/>
<line x1="1655.2" y1="1469.7" x2="1655.2" y2="1485.3" stroke="#7B2FF5" stroke-width="2.4" stroke-linecap="butt"/>
<text x="1235" y="1505.8" font-size="25.15" text-anchor="middle" font-weight="bold" fill="#000" stroke="#000" stroke-width="0.35" transform="rotate(-90 1235 1505.8) translate(1235 1505.8) scale(1 1.04) translate(-1235 -1505.8)">Level of p-α-syn</text>
<text x="1264.9" y="1507.4" font-size="25.4" text-anchor="middle" font-weight="bold" fill="#000" stroke="#000" stroke-width="0.35" transform="rotate(-90 1264.9 1507.4) translate(1264.9 1507.4) scale(1 1.04) translate(-1264.9 -1507.4)">(ratio to Con)</text>
<text x="1373.5" y="1667.1" font-size="26.4" text-anchor="end" font-weight="bold" fill="#000" stroke="#000" stroke-width="0.35" transform="rotate(-45 1373.5 1667.1) translate(1373.5 1667.1) scale(1 1.04) translate(-1373.5 -1667.1)">Con</text>
<text x="1469.5" y="1667.1" font-size="26.4" text-anchor="end" font-weight="bold" fill="#000" stroke="#000" stroke-width="0.35" transform="rotate(-45 1469.5 1667.1) translate(1469.5 1667.1) scale(1 1.04) translate(-1469.5 -1667.1)">H14d</text>
<text x="1565.5" y="1667.1" font-size="26.4" text-anchor="end" font-weight="bold" fill="#000" stroke="#000" stroke-width="0.35" transform="rotate(-45 1565.5 1667.1) translate(1565.5 1667.1) scale(1 1.04) translate(-1565.5 -1667.1)">H14d+R2W</text>
<text x="1661.8" y="1667.1" font-size="26.4" text-anchor="end" font-weight="bold" fill="#000" stroke="#000" stroke-width="0.35" transform="rotate(-45 1661.8 1667.1) translate(1661.8 1667.1) scale(1 1.04) translate(-1661.8 -1667.1)">H14d+R4W</text>
<path d="M1366.7 1348.2 V1338.6 H1655.2 V1348.2" stroke="#000" stroke-width="1.9" fill="none" />
<text x="1510.8" y="1340.46" font-size="24.5" text-anchor="middle" font-weight="bold" fill="#000" stroke="#000" stroke-width="0.35" transform="translate(1510.8 1340.46) scale(1 1.04) translate(-1510.8 -1340.46)" letter-spacing="-0.3">**</text>
<path d="M1366.7 1378.8 V1369.2 H1559 V1378.8" stroke="#000" stroke-width="1.9" fill="none" />
<text x="1462.5" y="1371.06" font-size="24.5" text-anchor="middle" font-weight="bold" fill="#000" stroke="#000" stroke-width="0.35" transform="translate(1462.5 1371.06) scale(1 1.04) translate(-1462.5 -1371.06)" letter-spacing="-0.3">***</text>
<path d="M1366.7 1409.4 V1399.8 H1462.8 V1409.4" stroke="#000" stroke-width="1.9" fill="none" />
<text x="1414.9" y="1401.66" font-size="24.5" text-anchor="middle" font-weight="bold" fill="#000" stroke="#000" stroke-width="0.35" transform="translate(1414.9 1401.66) scale(1 1.04) translate(-1414.9 -1401.66)" letter-spacing="-0.3">***</text>
</svg>
</body></html>
